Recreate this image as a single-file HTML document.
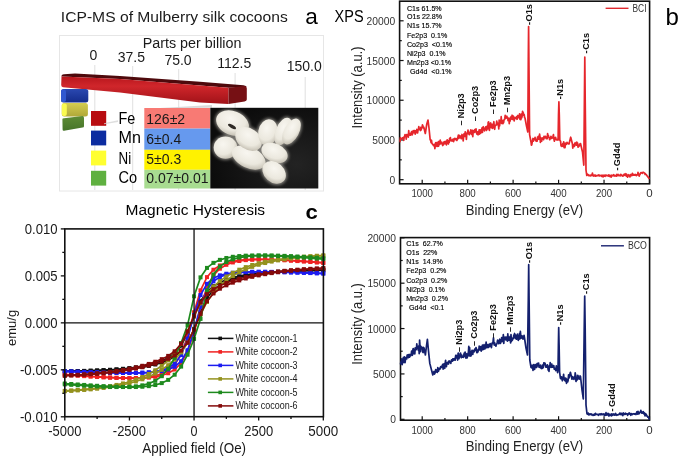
<!DOCTYPE html>
<html><head><meta charset="utf-8"><style>html,body{margin:0;padding:0;background:#fff;overflow:hidden}svg{display:block}text{font-family:"Liberation Sans", sans-serif}</style></head>
<body><div style="will-change:transform;opacity:0.999">
<svg width="685" height="458" viewBox="0 0 685 458" font-family='"Liberation Sans", sans-serif'>
<rect width="685" height="458" fill="#fff"/>
<text x="60.80" y="21.60" font-size="15" textLength="227" lengthAdjust="spacingAndGlyphs" fill="#1a1a1a" >ICP-MS of Mulberry silk cocoons</text>
<text x="305.30" y="23.80" font-size="22.6" >a</text>
<rect x="59.5" y="35.5" width="264" height="155.5" fill="none" stroke="#e6e6e6" stroke-width="1"/>
<text x="142.70" y="48.00" font-size="14" textLength="98.8" lengthAdjust="spacingAndGlyphs" fill="#1a1a1a" >Parts per billion</text>
<text x="93.50" y="60.30" font-size="14" text-anchor="middle" fill="#1a1a1a" >0</text>
<text x="131.30" y="61.50" font-size="14" text-anchor="middle" fill="#1a1a1a" >37.5</text>
<text x="178.00" y="65.00" font-size="14" text-anchor="middle" fill="#1a1a1a" >75.0</text>
<text x="234.20" y="67.80" font-size="14" text-anchor="middle" fill="#1a1a1a" >112.5</text>
<text x="304.20" y="70.80" font-size="14" text-anchor="middle" fill="#1a1a1a" >150.0</text>
<line x1="94.8" y1="65" x2="94.8" y2="190" stroke="#d8d8d8" stroke-width="0.8"/>
<line x1="132.7" y1="66" x2="132.7" y2="190" stroke="#d8d8d8" stroke-width="0.8"/>
<line x1="178.7" y1="69" x2="178.7" y2="190" stroke="#d8d8d8" stroke-width="0.8"/>
<line x1="235.1" y1="73" x2="235.1" y2="190" stroke="#d8d8d8" stroke-width="0.8"/>
<line x1="305.2" y1="77" x2="305.2" y2="190" stroke="#d8d8d8" stroke-width="0.8"/>
<defs>
<linearGradient id="rf" x1="0" y1="0" x2="0" y2="1"><stop offset="0" stop-color="#b8161c"/><stop offset="0.35" stop-color="#d0262b"/><stop offset="1" stop-color="#a01218"/></linearGradient>
<linearGradient id="bf" x1="0" y1="0" x2="0" y2="1"><stop offset="0" stop-color="#2a48b0"/><stop offset="1" stop-color="#142c8c"/></linearGradient>
<linearGradient id="yf" x1="0" y1="0" x2="0" y2="1"><stop offset="0" stop-color="#d4cc50"/><stop offset="1" stop-color="#b0a838"/></linearGradient>
<linearGradient id="gf" x1="0" y1="0" x2="0" y2="1"><stop offset="0" stop-color="#5e8c34"/><stop offset="1" stop-color="#46742a"/></linearGradient>
<radialGradient id="pbg" cx="0.8" cy="0.7" r="0.8"><stop offset="0" stop-color="#232323"/><stop offset="1" stop-color="#0c0c0c"/></radialGradient>
<radialGradient id="coc" cx="0.4" cy="0.35" r="0.7"><stop offset="0" stop-color="#f8f6f0"/><stop offset="0.65" stop-color="#ebe8de"/><stop offset="1" stop-color="#c2bdb0"/></radialGradient>
</defs>
<path d="M61.5,76.5 Q61.2,74.6 64,74.2 L75,73.6 L120,75.9 L200,81.8 L243.5,85.2 Q246.6,85.6 246.6,87 L228.5,87.8 L200,85.5 L120,79.1 Z" fill="#4e090c"/>
<path d="M61.5,76.5 L120,79.1 L200,85.5 L228.5,87.8 L228.5,104.1 L200,102.5 L120,92.5 L63,87.3 Q61.2,87 61.2,85 Z" fill="url(#rf)"/>
<path d="M228.5,87.8 L245,86 Q246.8,86 246.8,88.5 L246.8,99.5 Q246.8,101.2 244.5,101.5 L228.5,104.1 Z" fill="#761014"/>
<rect x="61" y="89.1" width="27.3" height="13.3" rx="2.5" fill="url(#bf)"/>
<rect x="61" y="89.6" width="5" height="12.4" rx="2" fill="#3058d0"/>
<rect x="61.8" y="103" width="26.1" height="13.6" rx="2.5" fill="url(#yf)"/>
<rect x="61.8" y="103.5" width="5" height="12.6" rx="2" fill="#fafa50"/>
<path d="M62.4,119 Q62.4,118.3 64,118.2 L82.5,116.1 Q84,116 84,118 L84,126.3 Q84,127.5 82.5,127.6 L64,130.8 Q62.6,131 62.6,129.6 Z" fill="url(#gf)"/>
<rect x="91" y="111" width="15.2" height="14.8" fill="#b80c10"/>
<rect x="91" y="130.6" width="15.2" height="14.8" fill="#0c2ca0"/>
<rect x="91" y="150.6" width="15.2" height="14.8" fill="#ffff30"/>
<rect x="91" y="170.8" width="15.2" height="14.8" fill="#5fb040"/>
<path d="M104,123.3 L118,120.2 L118,122 L104,124.2 Z" fill="#d6d6d6" opacity="0.8"/>
<path d="M160,108 L212,105 L212,107.8 L160,108.2 Z" fill="#d0d0d0" opacity="0.8"/>
<text x="118.50" y="123.70" font-size="16" textLength="16.8" lengthAdjust="spacingAndGlyphs" >Fe</text>
<text x="118.50" y="143.40" font-size="16" textLength="22.4" lengthAdjust="spacingAndGlyphs" >Mn</text>
<text x="118.50" y="163.50" font-size="16" textLength="12.6" lengthAdjust="spacingAndGlyphs" >Ni</text>
<text x="118.50" y="183.20" font-size="16" textLength="18.6" lengthAdjust="spacingAndGlyphs" >Co</text>
<rect x="144.3" y="108" width="66" height="20.60" fill="#f87a74"/>
<rect x="144.3" y="128.6" width="66" height="21.20" fill="#6699ee"/>
<rect x="144.3" y="149.8" width="66" height="20.00" fill="#fff200"/>
<rect x="144.3" y="169.8" width="66" height="18.70" fill="#a8dc90"/>
<text x="146.30" y="123.70" font-size="14" fill="#1a1a1a" >126±2</text>
<text x="146.30" y="143.70" font-size="14" fill="#1a1a1a" >6±0.4</text>
<text x="146.30" y="163.70" font-size="14" fill="#1a1a1a" >5±0.3</text>
<text x="146.30" y="183.30" font-size="14" fill="#1a1a1a" >0.07±0.01</text>
<defs><filter id="fz" x="-20%" y="-20%" width="140%" height="140%"><feGaussianBlur stdDeviation="0.7"/></filter></defs>
<rect x="210.3" y="107.8" width="108" height="80.7" fill="url(#pbg)"/>
<defs><filter id="fz2" x="-30%" y="-30%" width="160%" height="160%"><feGaussianBlur stdDeviation="1.6"/></filter></defs>
<g filter="url(#fz2)" opacity="0.55">
<ellipse cx="232.5" cy="123.2" rx="18.2" ry="13.2" transform="rotate(22,232.5,123.2)" fill="#d8d4ca"/>
<ellipse cx="225.5" cy="147.6" rx="13.0" ry="12.399999999999999" transform="rotate(0,225.5,147.6)" fill="#d8d4ca"/>
<ellipse cx="248.7" cy="157.5" rx="19.2" ry="11.7" transform="rotate(25,248.7,157.5)" fill="#d8d4ca"/>
<ellipse cx="248.6" cy="139" rx="15.7" ry="11.7" transform="rotate(35,248.6,139)" fill="#d8d4ca"/>
<ellipse cx="268" cy="132.4" rx="11.0" ry="14.399999999999999" transform="rotate(10,268,132.4)" fill="#d8d4ca"/>
<ellipse cx="283.2" cy="131.5" rx="8.7" ry="15.7" transform="rotate(22,283.2,131.5)" fill="#d8d4ca"/>
<ellipse cx="291.5" cy="131.5" rx="8.7" ry="15.2" transform="rotate(28,291.5,131.5)" fill="#d8d4ca"/>
<ellipse cx="274.5" cy="152.9" rx="15.0" ry="10.5" transform="rotate(25,274.5,152.9)" fill="#d8d4ca"/>
<ellipse cx="274.1" cy="172.4" rx="14.2" ry="11.2" transform="rotate(42,274.1,172.4)" fill="#d8d4ca"/>
</g>
<g filter="url(#fz)">
<ellipse cx="232.5" cy="123.2" rx="17" ry="12" transform="rotate(22,232.5,123.2)" fill="url(#coc)"/>
<ellipse cx="225.5" cy="147.6" rx="11.8" ry="11.2" transform="rotate(0,225.5,147.6)" fill="url(#coc)"/>
<ellipse cx="248.7" cy="157.5" rx="18" ry="10.5" transform="rotate(25,248.7,157.5)" fill="url(#coc)"/>
<ellipse cx="248.6" cy="139" rx="14.5" ry="10.5" transform="rotate(35,248.6,139)" fill="url(#coc)"/>
<ellipse cx="268" cy="132.4" rx="9.8" ry="13.2" transform="rotate(10,268,132.4)" fill="url(#coc)"/>
<ellipse cx="283.2" cy="131.5" rx="7.5" ry="14.5" transform="rotate(22,283.2,131.5)" fill="url(#coc)"/>
<ellipse cx="291.5" cy="131.5" rx="7.5" ry="14" transform="rotate(28,291.5,131.5)" fill="url(#coc)"/>
<ellipse cx="274.5" cy="152.9" rx="13.8" ry="9.3" transform="rotate(25,274.5,152.9)" fill="url(#coc)"/>
<ellipse cx="274.1" cy="172.4" rx="13" ry="10" transform="rotate(42,274.1,172.4)" fill="url(#coc)"/>
<ellipse cx="232" cy="126.5" rx="4.5" ry="1.6" transform="rotate(30,232,126.5)" fill="#2e2a26"/>
</g>
<rect x="399.6" y="1.2" width="250.0" height="182.60000000000002" fill="none" stroke="#111" stroke-width="1.6"/>
<line x1="649.50" y1="183.8" x2="649.50" y2="179.8" stroke="#111" stroke-width="1.2"/>
<text x="649.50" y="197.30" font-size="11.5" text-anchor="middle" fill="#333" >0</text>
<line x1="626.77" y1="183.8" x2="626.77" y2="181.60000000000002" stroke="#111" stroke-width="1.2"/>
<line x1="604.04" y1="183.8" x2="604.04" y2="179.8" stroke="#111" stroke-width="1.2"/>
<text x="604.04" y="197.30" font-size="11.5" text-anchor="middle" textLength="16.200000000000003" lengthAdjust="spacingAndGlyphs" fill="#333" >200</text>
<line x1="581.31" y1="183.8" x2="581.31" y2="181.60000000000002" stroke="#111" stroke-width="1.2"/>
<line x1="558.58" y1="183.8" x2="558.58" y2="179.8" stroke="#111" stroke-width="1.2"/>
<text x="558.58" y="197.30" font-size="11.5" text-anchor="middle" textLength="16.200000000000003" lengthAdjust="spacingAndGlyphs" fill="#333" >400</text>
<line x1="535.85" y1="183.8" x2="535.85" y2="181.60000000000002" stroke="#111" stroke-width="1.2"/>
<line x1="513.12" y1="183.8" x2="513.12" y2="179.8" stroke="#111" stroke-width="1.2"/>
<text x="513.12" y="197.30" font-size="11.5" text-anchor="middle" textLength="16.200000000000003" lengthAdjust="spacingAndGlyphs" fill="#333" >600</text>
<line x1="490.39" y1="183.8" x2="490.39" y2="181.60000000000002" stroke="#111" stroke-width="1.2"/>
<line x1="467.66" y1="183.8" x2="467.66" y2="179.8" stroke="#111" stroke-width="1.2"/>
<text x="467.66" y="197.30" font-size="11.5" text-anchor="middle" textLength="16.200000000000003" lengthAdjust="spacingAndGlyphs" fill="#333" >800</text>
<line x1="444.93" y1="183.8" x2="444.93" y2="181.60000000000002" stroke="#111" stroke-width="1.2"/>
<line x1="422.20" y1="183.8" x2="422.20" y2="179.8" stroke="#111" stroke-width="1.2"/>
<text x="422.20" y="197.30" font-size="11.5" text-anchor="middle" textLength="21.6" lengthAdjust="spacingAndGlyphs" fill="#333" >1000</text>
<line x1="399.6" y1="179.70" x2="403.6" y2="179.70" stroke="#111" stroke-width="1.2"/>
<text x="395.10" y="183.70" font-size="11.5" text-anchor="end" textLength="5.72" lengthAdjust="spacingAndGlyphs" fill="#333" >0</text>
<line x1="399.6" y1="159.84" x2="401.8" y2="159.84" stroke="#111" stroke-width="1.2"/>
<line x1="399.6" y1="139.97" x2="403.6" y2="139.97" stroke="#111" stroke-width="1.2"/>
<text x="395.10" y="143.97" font-size="11.5" text-anchor="end" textLength="22.88" lengthAdjust="spacingAndGlyphs" fill="#333" >5000</text>
<line x1="399.6" y1="120.11" x2="401.8" y2="120.11" stroke="#111" stroke-width="1.2"/>
<line x1="399.6" y1="100.25" x2="403.6" y2="100.25" stroke="#111" stroke-width="1.2"/>
<text x="395.10" y="104.25" font-size="11.5" text-anchor="end" textLength="28.599999999999998" lengthAdjust="spacingAndGlyphs" fill="#333" >10000</text>
<line x1="399.6" y1="80.39" x2="401.8" y2="80.39" stroke="#111" stroke-width="1.2"/>
<line x1="399.6" y1="60.52" x2="403.6" y2="60.52" stroke="#111" stroke-width="1.2"/>
<text x="395.10" y="64.52" font-size="11.5" text-anchor="end" textLength="28.599999999999998" lengthAdjust="spacingAndGlyphs" fill="#333" >15000</text>
<line x1="399.6" y1="40.66" x2="401.8" y2="40.66" stroke="#111" stroke-width="1.2"/>
<line x1="399.6" y1="20.80" x2="403.6" y2="20.80" stroke="#111" stroke-width="1.2"/>
<text x="395.10" y="24.80" font-size="11.5" text-anchor="end" textLength="28.599999999999998" lengthAdjust="spacingAndGlyphs" fill="#333" >20000</text>
<text x="524.40" y="214.80" font-size="14" text-anchor="middle" textLength="117.3" lengthAdjust="spacingAndGlyphs" fill="#222" >Binding Energy (eV)</text>
<line x1="605.6" y1="8.3" x2="628.5" y2="8.3" stroke="#e0282e" stroke-width="1.4"/>
<text x="632.50" y="11.90" font-size="10" textLength="14" lengthAdjust="spacingAndGlyphs" fill="#333" >BCI</text>
<text x="0" y="0" font-size="14" text-anchor="middle" textLength="82" lengthAdjust="spacingAndGlyphs" fill="#222" transform="translate(362.00,87.50) rotate(-90)" >Intensity (a.u.)</text>
<text x="334.60" y="21.70" font-size="15.6" textLength="29" lengthAdjust="spacingAndGlyphs" >XPS</text>
<text x="665.50" y="24.60" font-size="24" >b</text>
<path d="M399.60,141.64 L400.02,141.62 L400.43,137.72 L400.85,139.08 L401.26,139.07 L401.68,138.72 L402.09,138.28 L402.51,137.93 L402.92,138.24 L403.34,137.51 L403.75,140.30 L404.17,137.18 L404.58,136.48 L405.00,134.70 L405.41,135.00 L405.82,135.64 L406.24,139.15 L406.65,134.66 L407.06,136.08 L407.47,134.94 L407.88,134.34 L408.29,137.24 L408.71,130.68 L409.12,134.42 L409.53,134.70 L409.94,135.19 L410.35,135.25 L410.76,133.06 L411.18,133.35 L411.59,131.64 L412.00,134.98 L412.40,134.26 L412.80,132.93 L413.20,130.54 L413.60,132.66 L414.00,132.09 L414.40,130.50 L414.80,130.73 L415.20,134.08 L415.60,130.90 L416.00,131.21 L416.40,132.69 L416.80,129.39 L417.20,130.72 L417.60,132.98 L418.00,130.10 L418.40,129.61 L418.80,126.65 L419.20,128.85 L419.60,129.36 L420.00,129.49 L420.40,130.50 L420.80,127.32 L421.20,129.90 L421.60,127.65 L422.00,127.90 L422.45,124.86 L422.90,125.86 L423.35,127.86 L423.80,127.20 L425.30,133.50 L426.80,124.00 L428.00,120.00 L429.00,128.00 L430.20,140.01 L430.63,139.81 L431.07,142.73 L431.50,140.33 L431.93,143.33 L432.37,143.93 L432.80,144.22 L433.21,145.06 L433.62,145.63 L434.04,145.81 L434.45,144.44 L434.86,148.74 L435.28,144.74 L435.69,142.72 L436.10,146.37 L436.51,142.70 L436.93,145.98 L437.34,144.27 L437.75,146.30 L438.16,141.96 L438.57,146.20 L438.99,141.42 L439.40,144.45 L439.81,144.20 L440.23,140.22 L440.64,143.27 L441.05,143.57 L441.46,143.37 L441.88,142.19 L442.29,144.20 L442.70,145.51 L443.11,145.05 L443.52,144.59 L443.94,142.01 L444.35,141.80 L444.76,143.74 L445.18,141.35 L445.59,142.83 L446.00,143.42 L446.40,144.88 L446.80,141.09 L447.20,139.78 L447.60,141.98 L448.00,142.44 L448.40,144.01 L448.80,140.68 L449.20,142.30 L449.60,138.41 L450.00,138.88 L450.40,137.58 L450.80,140.43 L451.20,140.90 L451.60,140.87 L452.00,140.61 L452.40,139.67 L452.80,141.04 L453.20,139.16 L453.60,141.68 L454.00,139.61 L454.40,138.72 L454.80,138.28 L455.20,139.70 L455.60,138.75 L456.00,138.96 L456.40,138.71 L456.80,140.50 L457.20,139.70 L457.60,138.61 L458.00,136.74 L458.40,135.04 L458.80,138.33 L459.20,136.70 L459.60,135.44 L460.00,137.75 L460.40,136.90 L460.80,136.22 L461.20,138.68 L461.60,137.02 L462.00,134.47 L462.40,135.81 L462.80,136.35 L463.20,140.94 L463.60,136.39 L464.00,133.88 L464.40,135.54 L464.80,136.39 L465.20,131.74 L465.60,132.28 L466.00,133.49 L466.40,139.33 L466.80,133.85 L467.20,133.75 L467.60,133.40 L468.00,130.21 L468.40,133.72 L468.80,132.19 L469.20,134.61 L469.60,133.41 L470.00,133.52 L470.40,132.02 L470.80,129.84 L471.20,133.14 L471.60,134.42 L472.00,133.40 L472.40,130.43 L472.80,136.62 L473.20,130.65 L473.60,131.70 L474.00,131.99 L474.40,132.44 L474.80,129.62 L475.20,131.88 L475.60,131.25 L476.00,128.96 L476.40,131.91 L476.80,133.98 L477.20,131.80 L477.60,134.34 L478.00,134.80 L478.40,131.61 L478.80,131.82 L479.20,129.78 L479.60,134.11 L480.00,130.28 L480.41,129.95 L480.82,133.05 L481.23,129.78 L481.64,129.96 L482.05,127.79 L482.45,132.30 L482.86,128.44 L483.27,126.71 L483.68,129.16 L484.09,128.56 L484.50,130.94 L484.91,128.16 L485.32,128.79 L485.73,126.89 L486.14,128.13 L486.55,130.51 L486.95,126.98 L487.36,125.91 L487.77,128.99 L488.18,122.31 L488.59,121.89 L489.00,126.60 L489.41,130.46 L489.81,127.21 L490.22,123.44 L490.63,122.89 L491.04,127.52 L491.44,126.68 L491.85,124.31 L492.26,128.34 L492.67,128.23 L493.07,124.16 L493.48,124.37 L493.89,121.72 L494.30,127.81 L494.70,129.27 L495.11,125.63 L495.52,125.06 L495.93,125.31 L496.33,124.48 L496.74,121.08 L497.15,124.65 L497.56,123.10 L497.96,124.55 L498.37,124.37 L498.78,129.02 L499.19,119.99 L499.59,125.86 L500.00,122.39 L500.40,120.56 L500.80,122.41 L501.20,116.71 L501.60,123.41 L502.00,120.08 L502.40,120.87 L502.80,123.73 L503.20,123.05 L503.60,122.70 L504.00,119.99 L504.40,119.63 L504.80,118.39 L505.20,115.34 L505.60,118.48 L506.00,118.08 L506.41,116.87 L506.82,116.14 L507.23,118.17 L507.64,117.38 L508.05,120.52 L508.45,119.15 L508.86,118.41 L509.27,123.73 L509.68,118.24 L510.09,121.16 L510.50,117.39 L510.91,119.39 L511.32,116.43 L511.73,117.60 L512.14,115.23 L512.55,119.40 L512.95,118.92 L513.36,116.05 L513.77,118.09 L514.18,120.79 L514.59,117.57 L515.00,117.51 L515.42,117.59 L515.83,118.09 L516.25,118.69 L516.67,116.60 L517.08,119.27 L517.50,116.21 L517.92,115.45 L518.33,116.54 L518.75,116.59 L519.17,118.05 L519.58,113.92 L520.00,119.51 L520.42,119.16 L520.85,119.69 L521.27,114.20 L521.70,117.90 L522.12,116.30 L522.55,111.42 L522.98,112.50 L523.40,113.05 L523.80,115.25 L524.20,114.68 L524.60,117.52 L525.00,118.00 L526.50,126.00 L527.80,132.00 L528.30,60.00 L528.60,26.60 L528.90,60.00 L529.60,134.60 L531.00,142.01 L531.40,145.19 L531.80,144.69 L532.20,142.13 L532.60,140.13 L533.00,138.48 L533.41,141.11 L533.82,138.88 L534.24,139.16 L534.65,139.19 L535.06,137.44 L535.47,140.39 L535.88,139.21 L536.29,141.29 L536.71,139.39 L537.12,141.09 L537.53,137.09 L537.94,139.41 L538.35,136.41 L538.76,137.62 L539.18,139.16 L539.59,134.13 L540.00,137.21 L540.40,142.46 L540.80,137.52 L541.20,138.63 L541.60,141.22 L542.00,139.18 L542.40,139.09 L542.80,137.79 L543.20,138.47 L543.60,139.67 L544.00,136.32 L544.40,137.11 L544.80,137.74 L545.20,136.39 L545.60,136.57 L546.00,137.72 L546.40,138.69 L546.80,137.88 L547.20,138.66 L547.60,133.68 L548.00,135.49 L548.42,135.64 L548.83,137.13 L549.25,137.70 L549.67,139.72 L550.08,137.95 L550.50,138.69 L550.92,136.35 L551.33,137.20 L551.75,138.41 L552.17,138.07 L552.58,137.31 L553.00,136.26 L553.44,134.61 L553.88,138.52 L554.31,141.18 L554.75,139.72 L555.19,137.79 L555.62,137.38 L556.06,139.33 L556.50,139.65 L556.90,139.96 L557.30,139.96 L557.70,139.05 L558.10,140.00 L558.50,115.00 L558.90,101.80 L559.30,115.00 L559.80,140.00 L560.60,141.32 L561.04,145.82 L561.48,144.97 L561.92,146.38 L562.36,145.29 L562.80,143.69 L563.24,146.21 L563.68,141.82 L564.12,147.70 L564.56,143.46 L565.00,147.69 L565.40,143.54 L565.80,143.07 L566.20,144.44 L566.60,143.95 L567.00,142.37 L567.40,143.55 L567.80,143.23 L568.20,143.40 L568.60,143.94 L569.00,144.00 L570.70,137.20 L572.00,142.32 L572.40,143.88 L572.80,148.21 L573.20,144.58 L573.60,145.14 L574.00,145.47 L574.40,146.45 L574.80,143.13 L575.20,143.59 L575.60,144.90 L576.00,142.59 L576.40,145.20 L576.80,142.15 L577.20,145.11 L577.60,143.03 L578.00,147.18 L578.42,147.05 L578.83,145.63 L579.25,145.91 L579.67,144.09 L580.08,145.41 L580.50,143.50 L582.50,152.00 L583.80,165.20 L584.40,100.00 L584.80,57.20 L585.20,100.00 L586.00,170.00 L586.80,175.51 L587.20,174.82 L587.60,174.25 L588.00,174.88 L588.40,174.81 L588.80,175.70 L589.20,175.29 L589.60,175.71 L590.00,175.33 L590.40,175.87 L590.80,175.13 L591.20,175.16 L591.60,175.49 L592.00,175.61 L592.40,173.01 L592.80,175.06 L593.20,175.31 L593.60,176.05 L594.00,175.11 L594.40,175.80 L594.80,175.19 L595.20,175.05 L595.60,176.15 L596.00,175.40 L596.40,175.70 L596.80,175.93 L597.20,175.70 L597.60,175.38 L598.00,175.51 L598.40,174.99 L598.80,175.68 L599.20,175.85 L599.60,175.27 L600.00,175.83 L600.40,175.67 L600.80,175.77 L601.20,175.58 L601.60,176.31 L602.00,175.12 L602.40,176.34 L602.80,175.76 L603.20,176.89 L603.60,175.37 L604.00,175.17 L604.40,176.08 L604.80,175.66 L605.20,176.25 L605.60,175.30 L606.00,175.08 L606.40,175.52 L606.80,175.25 L607.20,175.47 L607.60,175.76 L608.00,175.89 L608.40,176.02 L608.80,174.83 L609.20,175.50 L609.60,176.38 L610.00,175.29 L610.40,176.30 L610.80,176.15 L611.20,177.11 L611.60,175.21 L612.00,175.86 L612.40,175.40 L612.80,175.47 L613.20,175.79 L613.60,174.72 L614.00,174.99 L614.40,175.93 L614.80,176.03 L615.20,175.61 L615.60,175.96 L616.00,175.31 L616.40,176.16 L616.80,174.46 L617.20,175.10 L617.60,175.72 L618.00,174.25 L618.40,175.39 L618.80,175.64 L619.20,175.71 L619.60,175.12 L620.00,175.65 L620.40,175.88 L620.80,174.27 L621.20,175.57 L621.60,175.51 L622.00,175.14 L622.40,175.41 L622.80,176.21 L623.20,175.33 L623.60,175.63 L624.00,174.25 L624.40,175.21 L624.80,174.09 L625.20,175.29 L625.60,175.28 L626.00,173.72 L626.40,176.13 L626.80,175.99 L627.20,176.05 L627.60,177.15 L628.00,174.64 L628.40,175.12 L628.80,175.75 L629.20,175.42 L629.60,175.23 L630.00,176.97 L630.40,174.60 L630.80,175.02 L631.20,174.61 L631.60,175.59 L632.00,175.50 L632.40,173.43 L632.80,175.16 L633.20,175.16 L633.60,175.26 L634.00,174.48 L634.40,174.69 L634.80,175.25 L635.20,175.18 L635.60,174.47 L636.00,174.68 L636.40,175.60 L636.80,174.79 L637.20,174.82 L637.60,174.80 L638.00,172.46 L638.43,173.57 L638.86,175.00 L639.29,176.12 L639.71,174.26 L640.14,174.23 L640.57,173.04 L641.00,172.57 L641.42,172.98 L641.83,172.69 L642.25,173.42 L642.67,172.50 L643.08,172.30 L643.50,172.43 L643.90,172.80 L644.30,173.00 L644.70,173.01 L645.10,174.48 L645.50,173.83 L645.90,174.67 L646.30,174.68 L646.70,175.38 L647.10,175.89 L647.50,176.00 L647.90,176.96 L648.30,177.51 L648.70,177.80 L649.10,178.64 L649.50,179.00" fill="none" stroke="#e6262c" stroke-width="1.7" stroke-linejoin="round"/>
<text x="0" y="0" font-size="7.6" fill="#000" stroke="#000" stroke-width="0.15" xml:space="preserve" transform="translate(407,10.5) scale(0.934,1)">C1s 61.5%</text>
<text x="0" y="0" font-size="7.6" fill="#000" stroke="#000" stroke-width="0.15" xml:space="preserve" transform="translate(407,19.3) scale(0.934,1)">O1s 22.8%</text>
<text x="0" y="0" font-size="7.6" fill="#000" stroke="#000" stroke-width="0.15" xml:space="preserve" transform="translate(407,28.4) scale(0.934,1)">N1s 15.7%</text>
<text x="0" y="0" font-size="7.6" fill="#000" stroke="#000" stroke-width="0.15" xml:space="preserve" transform="translate(407,38) scale(0.934,1)">Fe2p3  0.1%</text>
<text x="0" y="0" font-size="7.6" fill="#000" stroke="#000" stroke-width="0.15" xml:space="preserve" transform="translate(407,47.1) scale(0.934,1)">Co2p3  &lt;0.1%</text>
<text x="0" y="0" font-size="7.6" fill="#000" stroke="#000" stroke-width="0.15" xml:space="preserve" transform="translate(407,55.8) scale(0.934,1)">Ni2p3  0.1%</text>
<text x="0" y="0" font-size="7.6" fill="#000" stroke="#000" stroke-width="0.15" xml:space="preserve" transform="translate(407,64.9) scale(0.934,1)">Mn2p3 &lt;0.1%</text>
<text x="0" y="0" font-size="7.6" fill="#000" stroke="#000" stroke-width="0.15" xml:space="preserve" transform="translate(410,74.2) scale(0.934,1)">Gd4d  &lt;0.1%</text>
<text x="0" y="0" font-size="9.2" font-weight="bold" fill="#111" transform="translate(532.10,25.10) rotate(-90)">-<tspan dx="0.6">O1s</tspan></text>
<text x="0" y="0" font-size="9.2" font-weight="bold" fill="#111" transform="translate(588.60,53.50) rotate(-90)">-<tspan dx="0.6">C1s</tspan></text>
<text x="0" y="0" font-size="9.2" font-weight="bold" fill="#111" transform="translate(562.90,99.30) rotate(-90)">-<tspan dx="0.6">N1s</tspan></text>
<text x="0" y="0" font-size="9.2" font-weight="bold" fill="#111" transform="translate(619.80,170.60) rotate(-90)">-<tspan dx="1.4">Gd4d</tspan></text>
<text x="0" y="0" font-size="9.2" font-weight="bold" fill="#111" transform="translate(463.90,125.60) rotate(-90)">–<tspan dx="2.2">Ni2p3</tspan></text>
<text x="0" y="0" font-size="9.2" font-weight="bold" fill="#111" transform="translate(478.00,121.20) rotate(-90)">–<tspan dx="2.2">Co2p3</tspan></text>
<text x="0" y="0" font-size="9.2" font-weight="bold" fill="#111" transform="translate(496.40,114.20) rotate(-90)">–<tspan dx="2.2">Fe2p3</tspan></text>
<text x="0" y="0" font-size="9.2" font-weight="bold" fill="#111" transform="translate(509.90,112.40) rotate(-90)">–<tspan dx="2.2">Mn2p3</tspan></text>
<rect x="400.5" y="237.6" width="249.10000000000002" height="182.6" fill="none" stroke="#111" stroke-width="1.6"/>
<line x1="649.50" y1="420.2" x2="649.50" y2="416.2" stroke="#111" stroke-width="1.2"/>
<text x="649.50" y="433.70" font-size="11.5" text-anchor="middle" fill="#333" >0</text>
<line x1="626.77" y1="420.2" x2="626.77" y2="418.0" stroke="#111" stroke-width="1.2"/>
<line x1="604.04" y1="420.2" x2="604.04" y2="416.2" stroke="#111" stroke-width="1.2"/>
<text x="604.04" y="433.70" font-size="11.5" text-anchor="middle" textLength="16.200000000000003" lengthAdjust="spacingAndGlyphs" fill="#333" >200</text>
<line x1="581.31" y1="420.2" x2="581.31" y2="418.0" stroke="#111" stroke-width="1.2"/>
<line x1="558.58" y1="420.2" x2="558.58" y2="416.2" stroke="#111" stroke-width="1.2"/>
<text x="558.58" y="433.70" font-size="11.5" text-anchor="middle" textLength="16.200000000000003" lengthAdjust="spacingAndGlyphs" fill="#333" >400</text>
<line x1="535.85" y1="420.2" x2="535.85" y2="418.0" stroke="#111" stroke-width="1.2"/>
<line x1="513.12" y1="420.2" x2="513.12" y2="416.2" stroke="#111" stroke-width="1.2"/>
<text x="513.12" y="433.70" font-size="11.5" text-anchor="middle" textLength="16.200000000000003" lengthAdjust="spacingAndGlyphs" fill="#333" >600</text>
<line x1="490.39" y1="420.2" x2="490.39" y2="418.0" stroke="#111" stroke-width="1.2"/>
<line x1="467.66" y1="420.2" x2="467.66" y2="416.2" stroke="#111" stroke-width="1.2"/>
<text x="467.66" y="433.70" font-size="11.5" text-anchor="middle" textLength="16.200000000000003" lengthAdjust="spacingAndGlyphs" fill="#333" >800</text>
<line x1="444.93" y1="420.2" x2="444.93" y2="418.0" stroke="#111" stroke-width="1.2"/>
<line x1="422.20" y1="420.2" x2="422.20" y2="416.2" stroke="#111" stroke-width="1.2"/>
<text x="422.20" y="433.70" font-size="11.5" text-anchor="middle" textLength="21.6" lengthAdjust="spacingAndGlyphs" fill="#333" >1000</text>
<line x1="400.5" y1="419.30" x2="404.5" y2="419.30" stroke="#111" stroke-width="1.2"/>
<text x="396.00" y="423.30" font-size="11.5" text-anchor="end" textLength="5.72" lengthAdjust="spacingAndGlyphs" fill="#333" >0</text>
<line x1="400.5" y1="396.61" x2="402.7" y2="396.61" stroke="#111" stroke-width="1.2"/>
<line x1="400.5" y1="373.93" x2="404.5" y2="373.93" stroke="#111" stroke-width="1.2"/>
<text x="396.00" y="377.93" font-size="11.5" text-anchor="end" textLength="22.88" lengthAdjust="spacingAndGlyphs" fill="#333" >5000</text>
<line x1="400.5" y1="351.24" x2="402.7" y2="351.24" stroke="#111" stroke-width="1.2"/>
<line x1="400.5" y1="328.55" x2="404.5" y2="328.55" stroke="#111" stroke-width="1.2"/>
<text x="396.00" y="332.55" font-size="11.5" text-anchor="end" textLength="28.599999999999998" lengthAdjust="spacingAndGlyphs" fill="#333" >10000</text>
<line x1="400.5" y1="305.86" x2="402.7" y2="305.86" stroke="#111" stroke-width="1.2"/>
<line x1="400.5" y1="283.18" x2="404.5" y2="283.18" stroke="#111" stroke-width="1.2"/>
<text x="396.00" y="287.18" font-size="11.5" text-anchor="end" textLength="28.599999999999998" lengthAdjust="spacingAndGlyphs" fill="#333" >15000</text>
<line x1="400.5" y1="260.49" x2="402.7" y2="260.49" stroke="#111" stroke-width="1.2"/>
<line x1="400.5" y1="237.80" x2="404.5" y2="237.80" stroke="#111" stroke-width="1.2"/>
<text x="396.00" y="241.80" font-size="11.5" text-anchor="end" textLength="28.599999999999998" lengthAdjust="spacingAndGlyphs" fill="#333" >20000</text>
<text x="524.40" y="451.20" font-size="14" text-anchor="middle" textLength="117.3" lengthAdjust="spacingAndGlyphs" fill="#222" >Binding Energy (eV)</text>
<line x1="601" y1="245.8" x2="623.9" y2="245.8" stroke="#1a2370" stroke-width="1.4"/>
<text x="627.90" y="249.40" font-size="10" textLength="19" lengthAdjust="spacingAndGlyphs" fill="#333" >BCO</text>
<text x="0" y="0" font-size="14" text-anchor="middle" textLength="81.5" lengthAdjust="spacingAndGlyphs" fill="#222" transform="translate(362.00,324.00) rotate(-90)" >Intensity (a.u.)</text>
<path d="M400.50,364.36 L400.91,361.82 L401.33,363.97 L401.74,358.95 L402.15,364.64 L402.57,362.19 L402.98,362.41 L403.39,357.41 L403.80,362.47 L404.22,359.26 L404.63,356.96 L405.04,362.59 L405.46,359.84 L405.87,357.92 L406.28,358.79 L406.70,358.94 L407.11,355.22 L407.52,356.99 L407.93,354.90 L408.35,357.60 L408.76,354.65 L409.17,354.77 L409.59,357.14 L410.00,354.48 L410.40,354.65 L410.80,355.78 L411.20,354.72 L411.60,351.01 L412.00,351.50 L412.40,355.28 L412.80,350.19 L413.20,348.54 L413.60,353.66 L414.00,349.72 L414.40,350.07 L414.80,353.90 L415.20,347.92 L415.60,349.98 L416.00,348.00 L416.40,349.52 L416.80,343.75 L417.20,347.06 L417.60,347.83 L418.00,347.74 L418.40,350.30 L418.80,345.75 L419.20,353.73 L419.60,340.05 L420.04,346.38 L420.48,351.58 L420.92,346.35 L421.36,347.85 L421.80,347.19 L422.24,347.42 L422.68,351.95 L423.12,352.60 L423.56,347.38 L424.00,348.00 L425.40,355.00 L426.60,345.00 L427.40,339.40 L428.40,350.00 L429.80,363.40 L432.80,374.94 L433.21,372.32 L433.62,372.15 L434.04,371.49 L434.45,374.25 L434.86,373.21 L435.28,372.56 L435.69,369.66 L436.10,370.01 L436.51,371.96 L436.93,370.03 L437.34,372.36 L437.75,367.70 L438.16,370.52 L438.57,371.05 L438.99,368.94 L439.40,368.36 L439.81,369.20 L440.23,368.60 L440.64,366.80 L441.05,366.55 L441.46,367.49 L441.88,366.18 L442.29,366.18 L442.70,364.26 L443.11,369.13 L443.52,366.59 L443.94,363.88 L444.35,367.56 L444.76,368.24 L445.18,363.31 L445.59,360.37 L446.00,364.42 L446.40,366.54 L446.80,362.86 L447.20,363.53 L447.60,363.76 L448.00,362.02 L448.40,364.03 L448.80,361.34 L449.20,360.85 L449.60,362.53 L450.00,361.86 L450.40,361.99 L450.80,363.39 L451.20,360.81 L451.60,359.77 L452.00,360.45 L452.40,361.14 L452.80,358.94 L453.20,360.45 L453.60,358.84 L454.00,359.20 L454.40,359.81 L454.80,358.30 L455.20,360.22 L455.60,355.82 L456.01,355.13 L456.43,357.94 L456.84,355.80 L457.25,356.28 L457.67,360.05 L458.08,353.23 L458.49,353.11 L458.91,358.72 L459.32,357.29 L459.73,356.53 L460.15,355.91 L460.56,353.11 L460.97,356.45 L461.39,357.64 L461.80,355.05 L462.21,357.16 L462.63,356.82 L463.04,357.14 L463.45,357.32 L463.87,354.77 L464.28,353.04 L464.69,356.41 L465.11,352.06 L465.52,353.77 L465.93,358.14 L466.35,354.29 L466.76,353.83 L467.17,357.85 L467.59,355.88 L468.00,353.95 L468.40,352.27 L468.80,346.27 L469.20,356.06 L469.60,347.54 L470.00,353.59 L470.40,351.22 L470.80,356.21 L471.20,355.26 L471.60,352.96 L472.00,350.40 L472.40,354.25 L472.80,354.32 L473.20,350.30 L473.60,351.14 L474.00,351.88 L474.40,351.60 L474.80,349.64 L475.20,348.52 L475.60,350.15 L476.00,347.66 L476.40,348.67 L476.80,352.77 L477.20,349.93 L477.60,352.37 L478.00,351.62 L478.40,350.09 L478.80,349.98 L479.20,346.20 L479.60,347.25 L480.00,349.84 L480.41,347.12 L480.82,346.54 L481.22,351.14 L481.63,349.56 L482.04,348.60 L482.45,345.16 L482.85,349.75 L483.26,348.89 L483.67,349.27 L484.08,344.55 L484.48,347.28 L484.89,348.95 L485.30,347.66 L485.71,346.43 L486.12,342.15 L486.52,347.62 L486.93,347.67 L487.34,344.65 L487.75,347.29 L488.15,345.81 L488.56,347.32 L488.97,344.29 L489.38,345.89 L489.78,346.29 L490.19,343.53 L490.60,344.54 L491.01,344.36 L491.42,347.62 L491.83,344.40 L492.25,342.80 L492.66,343.50 L493.07,341.57 L493.48,337.87 L493.89,343.19 L494.30,345.19 L494.71,342.91 L495.13,345.00 L495.54,344.69 L495.95,346.17 L496.36,344.41 L496.77,344.10 L497.18,342.40 L497.59,340.14 L498.01,341.44 L498.42,342.43 L498.83,343.67 L499.24,340.94 L499.65,339.24 L500.06,341.25 L500.47,343.43 L500.89,340.82 L501.30,339.92 L501.71,337.51 L502.12,341.58 L502.53,340.99 L502.94,338.50 L503.35,334.71 L503.77,343.41 L504.18,338.18 L504.59,338.08 L505.00,337.06 L505.40,337.74 L505.80,339.97 L506.20,337.12 L506.60,339.60 L507.00,338.95 L507.40,341.20 L507.80,333.84 L508.20,338.15 L508.60,337.11 L509.00,340.31 L509.40,338.64 L509.80,339.15 L510.20,336.36 L510.60,342.93 L511.00,334.49 L511.40,341.40 L511.80,338.11 L512.20,340.48 L512.60,339.62 L513.00,337.94 L513.40,338.33 L513.80,335.08 L514.20,335.09 L514.60,333.47 L515.00,337.32 L515.41,338.54 L515.82,335.10 L516.24,336.84 L516.65,339.24 L517.06,338.34 L517.47,334.12 L517.88,336.62 L518.29,340.32 L518.71,336.41 L519.12,339.24 L519.53,333.31 L519.94,338.92 L520.35,331.44 L520.76,335.10 L521.18,338.24 L521.59,337.32 L522.00,335.87 L522.42,336.84 L522.83,338.98 L523.25,336.29 L523.67,338.95 L524.08,335.29 L524.50,338.00 L526.00,348.00 L527.50,355.00 L528.30,300.00 L528.70,264.70 L529.10,300.00 L529.80,360.00 L531.00,367.33 L531.40,367.72 L531.80,365.45 L532.20,368.24 L532.60,366.44 L533.00,370.49 L533.40,364.71 L533.80,366.03 L534.20,367.40 L534.60,369.44 L535.00,364.51 L535.40,367.05 L535.80,366.35 L536.20,367.56 L536.60,364.00 L537.00,366.79 L537.40,363.44 L537.80,364.07 L538.20,364.21 L538.60,363.06 L539.00,367.18 L539.40,366.87 L539.80,365.60 L540.20,367.68 L540.60,365.09 L541.00,367.82 L541.40,368.55 L541.80,366.41 L542.20,368.36 L542.60,364.99 L543.00,367.90 L543.40,367.10 L543.80,362.78 L544.20,364.62 L544.60,362.96 L545.00,363.19 L545.40,364.49 L545.80,367.08 L546.20,365.75 L546.60,367.19 L547.00,366.17 L547.40,364.87 L547.80,367.11 L548.20,370.24 L548.60,369.28 L549.00,371.46 L549.40,365.62 L549.80,366.85 L550.20,362.65 L550.60,364.54 L551.00,367.32 L551.40,365.52 L551.80,364.16 L552.20,367.15 L552.60,365.85 L553.00,367.20 L553.41,365.50 L553.83,365.79 L554.24,369.10 L554.65,368.17 L555.06,369.52 L555.47,369.72 L555.89,370.56 L556.30,365.96 L556.72,369.51 L557.15,367.45 L557.58,372.64 L558.00,370.00 L558.40,345.00 L558.70,327.60 L559.10,345.00 L559.60,372.00 L560.40,378.12 L560.80,378.56 L561.20,377.79 L561.60,376.88 L562.00,379.23 L562.40,380.78 L562.80,379.46 L563.20,378.38 L563.60,374.41 L564.00,378.22 L564.40,378.97 L564.80,380.63 L565.20,378.21 L565.60,381.12 L566.00,378.33 L566.43,383.29 L566.86,379.34 L567.29,379.62 L567.71,381.89 L568.14,380.18 L568.57,374.73 L569.00,378.00 L570.40,372.30 L572.00,379.19 L572.40,376.70 L572.80,378.55 L573.20,377.27 L573.60,378.97 L574.00,379.36 L574.40,376.97 L574.80,378.20 L575.20,372.83 L575.60,375.04 L576.00,381.52 L576.40,378.54 L576.80,377.77 L577.20,379.80 L577.60,375.40 L578.00,375.60 L578.42,378.47 L578.83,378.63 L579.25,379.17 L579.67,378.59 L580.08,375.88 L580.50,376.50 L582.00,390.00 L583.30,399.00 L584.20,330.00 L584.70,296.00 L585.20,330.00 L586.00,405.00 L587.00,413.83 L587.41,414.06 L587.81,414.28 L588.22,413.04 L588.62,414.72 L589.03,414.94 L589.44,413.97 L589.84,414.62 L590.25,414.14 L590.66,414.30 L591.06,414.02 L591.47,414.78 L591.88,414.14 L592.28,414.99 L592.69,414.87 L593.09,415.40 L593.50,415.28 L593.91,414.37 L594.31,414.06 L594.72,415.08 L595.12,414.79 L595.53,413.25 L595.94,414.52 L596.34,414.42 L596.75,414.38 L597.16,414.41 L597.56,414.43 L597.97,414.73 L598.38,415.35 L598.78,414.59 L599.19,413.95 L599.59,414.51 L600.00,414.27 L600.40,414.15 L600.80,414.90 L601.20,413.71 L601.60,414.29 L602.00,413.93 L602.40,414.59 L602.80,414.49 L603.20,414.44 L603.60,413.97 L604.00,413.79 L604.40,415.47 L604.80,415.03 L605.20,415.26 L605.60,414.42 L606.00,412.66 L606.40,415.08 L606.80,414.15 L607.20,414.48 L607.60,414.81 L608.00,413.34 L608.40,414.71 L608.80,415.93 L609.20,414.08 L609.60,415.60 L610.00,415.48 L610.40,414.97 L610.80,415.37 L611.20,413.89 L611.60,415.86 L612.00,414.99 L612.40,414.07 L612.80,415.19 L613.20,414.52 L613.60,414.00 L614.00,414.21 L614.40,414.51 L614.80,415.21 L615.20,414.11 L615.60,413.52 L616.00,414.77 L616.40,414.34 L616.80,415.28 L617.20,414.93 L617.60,415.02 L618.00,414.64 L618.40,414.37 L618.80,414.56 L619.20,414.32 L619.60,413.98 L620.00,412.96 L620.40,414.55 L620.80,414.14 L621.20,414.12 L621.60,413.32 L622.00,414.83 L622.40,413.63 L622.80,415.68 L623.20,414.55 L623.60,412.98 L624.00,413.70 L624.40,414.36 L624.80,413.93 L625.20,414.23 L625.60,413.19 L626.00,414.02 L626.40,413.82 L626.80,413.81 L627.20,413.81 L627.60,415.32 L628.00,414.66 L628.40,413.66 L628.80,413.25 L629.20,412.78 L629.60,414.08 L630.00,413.49 L630.40,413.80 L630.80,415.27 L631.20,413.61 L631.60,414.10 L632.00,414.15 L632.40,414.52 L632.80,413.93 L633.20,413.90 L633.60,413.91 L634.00,413.73 L634.40,414.16 L634.80,413.82 L635.20,414.25 L635.60,413.59 L636.00,414.37 L636.40,413.85 L636.80,411.79 L637.20,413.19 L637.60,414.06 L638.00,411.25 L638.40,413.24 L638.80,413.92 L639.20,413.42 L639.60,412.38 L640.00,412.20 L640.42,412.23 L640.83,410.43 L641.25,412.86 L641.67,411.65 L642.08,413.21 L642.50,412.53 L642.92,412.25 L643.33,411.69 L643.75,413.78 L644.17,413.54 L644.58,413.00 L645.00,415.89 L645.40,415.35 L645.80,413.82 L646.20,414.49 L646.60,415.20 L647.00,416.18 L647.42,416.10 L647.83,417.24 L648.25,417.25 L648.67,417.20 L649.08,419.08 L649.50,418.50" fill="none" stroke="#14206e" stroke-width="1.7" stroke-linejoin="round"/>
<text x="0" y="0" font-size="7.6" fill="#000" stroke="#000" stroke-width="0.15" xml:space="preserve" transform="translate(406.2,245.9) scale(0.934,1)">C1s  62.7%</text>
<text x="0" y="0" font-size="7.6" fill="#000" stroke="#000" stroke-width="0.15" xml:space="preserve" transform="translate(406.2,255) scale(0.934,1)">O1s  22%</text>
<text x="0" y="0" font-size="7.6" fill="#000" stroke="#000" stroke-width="0.15" xml:space="preserve" transform="translate(406.2,264.1) scale(0.934,1)">N1s  14.9%</text>
<text x="0" y="0" font-size="7.6" fill="#000" stroke="#000" stroke-width="0.15" xml:space="preserve" transform="translate(406.2,273.4) scale(0.934,1)">Fe2p3  0.2%</text>
<text x="0" y="0" font-size="7.6" fill="#000" stroke="#000" stroke-width="0.15" xml:space="preserve" transform="translate(406.2,282.7) scale(0.934,1)">Co2p3  0.2%</text>
<text x="0" y="0" font-size="7.6" fill="#000" stroke="#000" stroke-width="0.15" xml:space="preserve" transform="translate(406.2,291.8) scale(0.934,1)">Ni2p3  0.1%</text>
<text x="0" y="0" font-size="7.6" fill="#000" stroke="#000" stroke-width="0.15" xml:space="preserve" transform="translate(406.2,301) scale(0.934,1)">Mn2p3  0.2%</text>
<text x="0" y="0" font-size="7.6" fill="#000" stroke="#000" stroke-width="0.15" xml:space="preserve" transform="translate(409,310.2) scale(0.934,1)">Gd4d  &lt;0.1</text>
<text x="0" y="0" font-size="9.2" font-weight="bold" fill="#111" transform="translate(532.00,263.00) rotate(-90)">-<tspan dx="0.6">O1s</tspan></text>
<text x="0" y="0" font-size="9.2" font-weight="bold" fill="#111" transform="translate(588.70,293.90) rotate(-90)">-<tspan dx="0.6">C1s</tspan></text>
<text x="0" y="0" font-size="9.2" font-weight="bold" fill="#111" transform="translate(562.70,325.00) rotate(-90)">-<tspan dx="0.6">N1s</tspan></text>
<text x="0" y="0" font-size="9.2" font-weight="bold" fill="#111" transform="translate(615.00,411.40) rotate(-90)">-<tspan dx="1.4">Gd4d</tspan></text>
<text x="0" y="0" font-size="9.2" font-weight="bold" fill="#111" transform="translate(461.80,352.00) rotate(-90)">–<tspan dx="2.2">Ni2p3</tspan></text>
<text x="0" y="0" font-size="9.2" font-weight="bold" fill="#111" transform="translate(476.60,346.00) rotate(-90)">–<tspan dx="2.2">Co2p3</tspan></text>
<text x="0" y="0" font-size="9.2" font-weight="bold" fill="#111" transform="translate(495.90,338.00) rotate(-90)">–<tspan dx="2.2">Fe2p3</tspan></text>
<text x="0" y="0" font-size="9.2" font-weight="bold" fill="#111" transform="translate(512.90,332.00) rotate(-90)">–<tspan dx="2.2">Mn2p3</tspan></text>
<text x="125.50" y="215.40" font-size="14" textLength="139.6" lengthAdjust="spacingAndGlyphs" >Magnetic Hysteresis</text>
<text x="305.40" y="219.00" font-size="20.5" textLength="12.3" lengthAdjust="spacingAndGlyphs" font-weight="bold" >c</text>
<g>
<path d="M64.80,371.43 L71.26,371.30 L77.73,371.17 L84.19,371.00 L90.65,370.82 L97.11,370.60 L103.58,370.33 L110.04,370.02 L116.50,369.64 L122.96,369.19 L129.43,368.62 L135.89,367.92 L142.35,367.04 L148.81,365.92 L155.28,364.48 L161.74,362.60 L168.20,360.11 L174.66,356.65 L181.12,351.44 L187.59,342.79 L194.05,328.84 L200.51,311.56 L206.98,298.07 L213.44,289.98 L219.90,284.99 L226.36,281.58 L232.83,279.09 L239.29,277.21 L245.75,275.75 L252.21,274.62 L258.68,273.72 L265.14,273.01 L271.60,272.43 L278.06,271.96 L284.53,271.57 L290.99,271.25 L297.45,270.98 L303.91,270.75 L310.38,270.56 L316.84,270.39 L323.30,270.24" fill="none" stroke="#111111" stroke-width="1.7"/>
<rect x="62.80" y="369.43" width="4" height="4" fill="#111111"/>
<rect x="69.26" y="369.30" width="4" height="4" fill="#111111"/>
<rect x="75.73" y="369.17" width="4" height="4" fill="#111111"/>
<rect x="82.19" y="369.00" width="4" height="4" fill="#111111"/>
<rect x="88.65" y="368.82" width="4" height="4" fill="#111111"/>
<rect x="95.11" y="368.60" width="4" height="4" fill="#111111"/>
<rect x="101.58" y="368.33" width="4" height="4" fill="#111111"/>
<rect x="108.04" y="368.02" width="4" height="4" fill="#111111"/>
<rect x="114.50" y="367.64" width="4" height="4" fill="#111111"/>
<rect x="120.96" y="367.19" width="4" height="4" fill="#111111"/>
<rect x="127.43" y="366.62" width="4" height="4" fill="#111111"/>
<rect x="133.89" y="365.92" width="4" height="4" fill="#111111"/>
<rect x="140.35" y="365.04" width="4" height="4" fill="#111111"/>
<rect x="146.81" y="363.92" width="4" height="4" fill="#111111"/>
<rect x="153.28" y="362.48" width="4" height="4" fill="#111111"/>
<rect x="159.74" y="360.60" width="4" height="4" fill="#111111"/>
<rect x="166.20" y="358.11" width="4" height="4" fill="#111111"/>
<rect x="172.66" y="354.65" width="4" height="4" fill="#111111"/>
<rect x="179.12" y="349.44" width="4" height="4" fill="#111111"/>
<rect x="185.59" y="340.79" width="4" height="4" fill="#111111"/>
<rect x="192.05" y="326.84" width="4" height="4" fill="#111111"/>
<rect x="198.51" y="309.56" width="4" height="4" fill="#111111"/>
<rect x="204.98" y="296.07" width="4" height="4" fill="#111111"/>
<rect x="211.44" y="287.98" width="4" height="4" fill="#111111"/>
<rect x="217.90" y="282.99" width="4" height="4" fill="#111111"/>
<rect x="224.36" y="279.58" width="4" height="4" fill="#111111"/>
<rect x="230.83" y="277.09" width="4" height="4" fill="#111111"/>
<rect x="237.29" y="275.21" width="4" height="4" fill="#111111"/>
<rect x="243.75" y="273.75" width="4" height="4" fill="#111111"/>
<rect x="250.21" y="272.62" width="4" height="4" fill="#111111"/>
<rect x="256.68" y="271.72" width="4" height="4" fill="#111111"/>
<rect x="263.14" y="271.01" width="4" height="4" fill="#111111"/>
<rect x="269.60" y="270.43" width="4" height="4" fill="#111111"/>
<rect x="276.06" y="269.96" width="4" height="4" fill="#111111"/>
<rect x="282.53" y="269.57" width="4" height="4" fill="#111111"/>
<rect x="288.99" y="269.25" width="4" height="4" fill="#111111"/>
<rect x="295.45" y="268.98" width="4" height="4" fill="#111111"/>
<rect x="301.91" y="268.75" width="4" height="4" fill="#111111"/>
<rect x="308.38" y="268.56" width="4" height="4" fill="#111111"/>
<rect x="314.84" y="268.39" width="4" height="4" fill="#111111"/>
<rect x="321.30" y="268.24" width="4" height="4" fill="#111111"/>
<path d="M64.80,371.34 L71.26,371.21 L77.73,371.05 L84.19,370.87 L90.65,370.66 L97.11,370.41 L103.58,370.11 L110.04,369.76 L116.50,369.32 L122.96,368.79 L129.43,368.13 L135.89,367.31 L142.35,366.26 L148.81,364.92 L155.28,363.18 L161.74,360.89 L168.20,357.75 L174.66,353.15 L181.12,345.69 L187.59,333.26 L194.05,316.35 L200.51,301.22 L206.98,291.83 L213.44,286.18 L219.90,282.43 L226.36,279.72 L232.83,277.69 L239.29,276.13 L245.75,274.91 L252.21,273.95 L258.68,273.19 L265.14,272.58 L271.60,272.08 L278.06,271.67 L284.53,271.33 L290.99,271.05 L297.45,270.81 L303.91,270.61 L310.38,270.43 L316.84,270.28 L323.30,270.15" fill="none" stroke="#111111" stroke-width="1.7"/>
<rect x="62.80" y="369.34" width="4" height="4" fill="#111111"/>
<rect x="69.26" y="369.21" width="4" height="4" fill="#111111"/>
<rect x="75.73" y="369.05" width="4" height="4" fill="#111111"/>
<rect x="82.19" y="368.87" width="4" height="4" fill="#111111"/>
<rect x="88.65" y="368.66" width="4" height="4" fill="#111111"/>
<rect x="95.11" y="368.41" width="4" height="4" fill="#111111"/>
<rect x="101.58" y="368.11" width="4" height="4" fill="#111111"/>
<rect x="108.04" y="367.76" width="4" height="4" fill="#111111"/>
<rect x="114.50" y="367.32" width="4" height="4" fill="#111111"/>
<rect x="120.96" y="366.79" width="4" height="4" fill="#111111"/>
<rect x="127.43" y="366.13" width="4" height="4" fill="#111111"/>
<rect x="133.89" y="365.31" width="4" height="4" fill="#111111"/>
<rect x="140.35" y="364.26" width="4" height="4" fill="#111111"/>
<rect x="146.81" y="362.92" width="4" height="4" fill="#111111"/>
<rect x="153.28" y="361.18" width="4" height="4" fill="#111111"/>
<rect x="159.74" y="358.89" width="4" height="4" fill="#111111"/>
<rect x="166.20" y="355.75" width="4" height="4" fill="#111111"/>
<rect x="172.66" y="351.15" width="4" height="4" fill="#111111"/>
<rect x="179.12" y="343.69" width="4" height="4" fill="#111111"/>
<rect x="185.59" y="331.26" width="4" height="4" fill="#111111"/>
<rect x="192.05" y="314.35" width="4" height="4" fill="#111111"/>
<rect x="198.51" y="299.22" width="4" height="4" fill="#111111"/>
<rect x="204.98" y="289.83" width="4" height="4" fill="#111111"/>
<rect x="211.44" y="284.18" width="4" height="4" fill="#111111"/>
<rect x="217.90" y="280.43" width="4" height="4" fill="#111111"/>
<rect x="224.36" y="277.72" width="4" height="4" fill="#111111"/>
<rect x="230.83" y="275.69" width="4" height="4" fill="#111111"/>
<rect x="237.29" y="274.13" width="4" height="4" fill="#111111"/>
<rect x="243.75" y="272.91" width="4" height="4" fill="#111111"/>
<rect x="250.21" y="271.95" width="4" height="4" fill="#111111"/>
<rect x="256.68" y="271.19" width="4" height="4" fill="#111111"/>
<rect x="263.14" y="270.58" width="4" height="4" fill="#111111"/>
<rect x="269.60" y="270.08" width="4" height="4" fill="#111111"/>
<rect x="276.06" y="269.67" width="4" height="4" fill="#111111"/>
<rect x="282.53" y="269.33" width="4" height="4" fill="#111111"/>
<rect x="288.99" y="269.05" width="4" height="4" fill="#111111"/>
<rect x="295.45" y="268.81" width="4" height="4" fill="#111111"/>
<rect x="301.91" y="268.61" width="4" height="4" fill="#111111"/>
<rect x="308.38" y="268.43" width="4" height="4" fill="#111111"/>
<rect x="314.84" y="268.28" width="4" height="4" fill="#111111"/>
<rect x="321.30" y="268.15" width="4" height="4" fill="#111111"/>
<path d="M64.80,374.25 L71.26,374.77 L77.73,375.28 L84.19,375.77 L90.65,376.24 L97.11,376.68 L103.58,377.09 L110.04,377.46 L116.50,377.77 L122.96,378.01 L129.43,378.16 L135.89,378.18 L142.35,378.02 L148.81,377.60 L155.28,376.81 L161.74,375.47 L168.20,373.25 L174.66,369.53 L181.12,363.06 L187.59,351.44 L194.05,332.17 L200.51,307.23 L206.98,287.08 L213.44,275.30 L219.90,268.69 L226.36,264.82 L232.83,262.46 L239.29,261.01 L245.75,260.13 L252.21,259.65 L258.68,259.43 L265.14,259.40 L271.60,259.51 L278.06,259.72 L284.53,260.01 L290.99,260.36 L297.45,260.75 L303.91,261.17 L310.38,261.63 L316.84,262.11 L323.30,262.61" fill="none" stroke="#f02222" stroke-width="1.7"/>
<rect x="62.80" y="372.25" width="4" height="4" fill="#f02222"/>
<rect x="69.26" y="372.77" width="4" height="4" fill="#f02222"/>
<rect x="75.73" y="373.28" width="4" height="4" fill="#f02222"/>
<rect x="82.19" y="373.77" width="4" height="4" fill="#f02222"/>
<rect x="88.65" y="374.24" width="4" height="4" fill="#f02222"/>
<rect x="95.11" y="374.68" width="4" height="4" fill="#f02222"/>
<rect x="101.58" y="375.09" width="4" height="4" fill="#f02222"/>
<rect x="108.04" y="375.46" width="4" height="4" fill="#f02222"/>
<rect x="114.50" y="375.77" width="4" height="4" fill="#f02222"/>
<rect x="120.96" y="376.01" width="4" height="4" fill="#f02222"/>
<rect x="127.43" y="376.16" width="4" height="4" fill="#f02222"/>
<rect x="133.89" y="376.18" width="4" height="4" fill="#f02222"/>
<rect x="140.35" y="376.02" width="4" height="4" fill="#f02222"/>
<rect x="146.81" y="375.60" width="4" height="4" fill="#f02222"/>
<rect x="153.28" y="374.81" width="4" height="4" fill="#f02222"/>
<rect x="159.74" y="373.47" width="4" height="4" fill="#f02222"/>
<rect x="166.20" y="371.25" width="4" height="4" fill="#f02222"/>
<rect x="172.66" y="367.53" width="4" height="4" fill="#f02222"/>
<rect x="179.12" y="361.06" width="4" height="4" fill="#f02222"/>
<rect x="185.59" y="349.44" width="4" height="4" fill="#f02222"/>
<rect x="192.05" y="330.17" width="4" height="4" fill="#f02222"/>
<rect x="198.51" y="305.23" width="4" height="4" fill="#f02222"/>
<rect x="204.98" y="285.08" width="4" height="4" fill="#f02222"/>
<rect x="211.44" y="273.30" width="4" height="4" fill="#f02222"/>
<rect x="217.90" y="266.69" width="4" height="4" fill="#f02222"/>
<rect x="224.36" y="262.82" width="4" height="4" fill="#f02222"/>
<rect x="230.83" y="260.46" width="4" height="4" fill="#f02222"/>
<rect x="237.29" y="259.01" width="4" height="4" fill="#f02222"/>
<rect x="243.75" y="258.13" width="4" height="4" fill="#f02222"/>
<rect x="250.21" y="257.65" width="4" height="4" fill="#f02222"/>
<rect x="256.68" y="257.43" width="4" height="4" fill="#f02222"/>
<rect x="263.14" y="257.40" width="4" height="4" fill="#f02222"/>
<rect x="269.60" y="257.51" width="4" height="4" fill="#f02222"/>
<rect x="276.06" y="257.72" width="4" height="4" fill="#f02222"/>
<rect x="282.53" y="258.01" width="4" height="4" fill="#f02222"/>
<rect x="288.99" y="258.36" width="4" height="4" fill="#f02222"/>
<rect x="295.45" y="258.75" width="4" height="4" fill="#f02222"/>
<rect x="301.91" y="259.17" width="4" height="4" fill="#f02222"/>
<rect x="308.38" y="259.63" width="4" height="4" fill="#f02222"/>
<rect x="314.84" y="260.11" width="4" height="4" fill="#f02222"/>
<rect x="321.30" y="260.61" width="4" height="4" fill="#f02222"/>
<path d="M64.80,374.67 L71.26,375.18 L77.73,375.67 L84.19,376.15 L90.65,376.60 L97.11,377.01 L103.58,377.39 L110.04,377.72 L116.50,377.97 L122.96,378.14 L129.43,378.19 L135.89,378.07 L142.35,377.71 L148.81,377.01 L155.28,375.80 L161.74,373.78 L168.20,370.44 L174.66,364.67 L181.12,354.33 L187.59,336.60 L194.05,312.26 L200.51,290.37 L206.98,277.13 L213.44,269.74 L219.90,265.44 L226.36,262.84 L232.83,261.24 L239.29,260.27 L245.75,259.72 L252.21,259.46 L258.68,259.40 L265.14,259.48 L271.60,259.67 L278.06,259.95 L284.53,260.28 L290.99,260.67 L297.45,261.09 L303.91,261.54 L310.38,262.01 L316.84,262.51 L323.30,263.02" fill="none" stroke="#f02222" stroke-width="1.7"/>
<rect x="62.80" y="372.67" width="4" height="4" fill="#f02222"/>
<rect x="69.26" y="373.18" width="4" height="4" fill="#f02222"/>
<rect x="75.73" y="373.67" width="4" height="4" fill="#f02222"/>
<rect x="82.19" y="374.15" width="4" height="4" fill="#f02222"/>
<rect x="88.65" y="374.60" width="4" height="4" fill="#f02222"/>
<rect x="95.11" y="375.01" width="4" height="4" fill="#f02222"/>
<rect x="101.58" y="375.39" width="4" height="4" fill="#f02222"/>
<rect x="108.04" y="375.72" width="4" height="4" fill="#f02222"/>
<rect x="114.50" y="375.97" width="4" height="4" fill="#f02222"/>
<rect x="120.96" y="376.14" width="4" height="4" fill="#f02222"/>
<rect x="127.43" y="376.19" width="4" height="4" fill="#f02222"/>
<rect x="133.89" y="376.07" width="4" height="4" fill="#f02222"/>
<rect x="140.35" y="375.71" width="4" height="4" fill="#f02222"/>
<rect x="146.81" y="375.01" width="4" height="4" fill="#f02222"/>
<rect x="153.28" y="373.80" width="4" height="4" fill="#f02222"/>
<rect x="159.74" y="371.78" width="4" height="4" fill="#f02222"/>
<rect x="166.20" y="368.44" width="4" height="4" fill="#f02222"/>
<rect x="172.66" y="362.67" width="4" height="4" fill="#f02222"/>
<rect x="179.12" y="352.33" width="4" height="4" fill="#f02222"/>
<rect x="185.59" y="334.60" width="4" height="4" fill="#f02222"/>
<rect x="192.05" y="310.26" width="4" height="4" fill="#f02222"/>
<rect x="198.51" y="288.37" width="4" height="4" fill="#f02222"/>
<rect x="204.98" y="275.13" width="4" height="4" fill="#f02222"/>
<rect x="211.44" y="267.74" width="4" height="4" fill="#f02222"/>
<rect x="217.90" y="263.44" width="4" height="4" fill="#f02222"/>
<rect x="224.36" y="260.84" width="4" height="4" fill="#f02222"/>
<rect x="230.83" y="259.24" width="4" height="4" fill="#f02222"/>
<rect x="237.29" y="258.27" width="4" height="4" fill="#f02222"/>
<rect x="243.75" y="257.72" width="4" height="4" fill="#f02222"/>
<rect x="250.21" y="257.46" width="4" height="4" fill="#f02222"/>
<rect x="256.68" y="257.40" width="4" height="4" fill="#f02222"/>
<rect x="263.14" y="257.48" width="4" height="4" fill="#f02222"/>
<rect x="269.60" y="257.67" width="4" height="4" fill="#f02222"/>
<rect x="276.06" y="257.95" width="4" height="4" fill="#f02222"/>
<rect x="282.53" y="258.28" width="4" height="4" fill="#f02222"/>
<rect x="288.99" y="258.67" width="4" height="4" fill="#f02222"/>
<rect x="295.45" y="259.09" width="4" height="4" fill="#f02222"/>
<rect x="301.91" y="259.54" width="4" height="4" fill="#f02222"/>
<rect x="308.38" y="260.01" width="4" height="4" fill="#f02222"/>
<rect x="314.84" y="260.51" width="4" height="4" fill="#f02222"/>
<rect x="321.30" y="261.02" width="4" height="4" fill="#f02222"/>
<path d="M64.80,371.22 L71.26,371.46 L77.73,371.69 L84.19,371.92 L90.65,372.13 L97.11,372.33 L103.58,372.52 L110.04,372.68 L116.50,372.82 L122.96,372.92 L129.43,372.97 L135.89,372.94 L142.35,372.82 L148.81,372.54 L155.28,372.02 L161.74,371.12 L168.20,369.55 L174.66,366.71 L181.12,361.22 L187.59,350.22 L194.05,330.54 L200.51,306.82 L206.98,290.07 L213.44,281.35 L219.90,276.97 L226.36,274.64 L232.83,273.33 L239.29,272.57 L245.75,272.14 L252.21,271.92 L258.68,271.83 L265.14,271.83 L271.60,271.89 L278.06,272.00 L284.53,272.15 L290.99,272.32 L297.45,272.51 L303.91,272.72 L310.38,272.93 L316.84,273.16 L323.30,273.40" fill="none" stroke="#1c1cf0" stroke-width="1.7"/>
<rect x="62.80" y="369.22" width="4" height="4" fill="#1c1cf0"/>
<rect x="69.26" y="369.46" width="4" height="4" fill="#1c1cf0"/>
<rect x="75.73" y="369.69" width="4" height="4" fill="#1c1cf0"/>
<rect x="82.19" y="369.92" width="4" height="4" fill="#1c1cf0"/>
<rect x="88.65" y="370.13" width="4" height="4" fill="#1c1cf0"/>
<rect x="95.11" y="370.33" width="4" height="4" fill="#1c1cf0"/>
<rect x="101.58" y="370.52" width="4" height="4" fill="#1c1cf0"/>
<rect x="108.04" y="370.68" width="4" height="4" fill="#1c1cf0"/>
<rect x="114.50" y="370.82" width="4" height="4" fill="#1c1cf0"/>
<rect x="120.96" y="370.92" width="4" height="4" fill="#1c1cf0"/>
<rect x="127.43" y="370.97" width="4" height="4" fill="#1c1cf0"/>
<rect x="133.89" y="370.94" width="4" height="4" fill="#1c1cf0"/>
<rect x="140.35" y="370.82" width="4" height="4" fill="#1c1cf0"/>
<rect x="146.81" y="370.54" width="4" height="4" fill="#1c1cf0"/>
<rect x="153.28" y="370.02" width="4" height="4" fill="#1c1cf0"/>
<rect x="159.74" y="369.12" width="4" height="4" fill="#1c1cf0"/>
<rect x="166.20" y="367.55" width="4" height="4" fill="#1c1cf0"/>
<rect x="172.66" y="364.71" width="4" height="4" fill="#1c1cf0"/>
<rect x="179.12" y="359.22" width="4" height="4" fill="#1c1cf0"/>
<rect x="185.59" y="348.22" width="4" height="4" fill="#1c1cf0"/>
<rect x="192.05" y="328.54" width="4" height="4" fill="#1c1cf0"/>
<rect x="198.51" y="304.82" width="4" height="4" fill="#1c1cf0"/>
<rect x="204.98" y="288.07" width="4" height="4" fill="#1c1cf0"/>
<rect x="211.44" y="279.35" width="4" height="4" fill="#1c1cf0"/>
<rect x="217.90" y="274.97" width="4" height="4" fill="#1c1cf0"/>
<rect x="224.36" y="272.64" width="4" height="4" fill="#1c1cf0"/>
<rect x="230.83" y="271.33" width="4" height="4" fill="#1c1cf0"/>
<rect x="237.29" y="270.57" width="4" height="4" fill="#1c1cf0"/>
<rect x="243.75" y="270.14" width="4" height="4" fill="#1c1cf0"/>
<rect x="250.21" y="269.92" width="4" height="4" fill="#1c1cf0"/>
<rect x="256.68" y="269.83" width="4" height="4" fill="#1c1cf0"/>
<rect x="263.14" y="269.83" width="4" height="4" fill="#1c1cf0"/>
<rect x="269.60" y="269.89" width="4" height="4" fill="#1c1cf0"/>
<rect x="276.06" y="270.00" width="4" height="4" fill="#1c1cf0"/>
<rect x="282.53" y="270.15" width="4" height="4" fill="#1c1cf0"/>
<rect x="288.99" y="270.32" width="4" height="4" fill="#1c1cf0"/>
<rect x="295.45" y="270.51" width="4" height="4" fill="#1c1cf0"/>
<rect x="301.91" y="270.72" width="4" height="4" fill="#1c1cf0"/>
<rect x="308.38" y="270.93" width="4" height="4" fill="#1c1cf0"/>
<rect x="314.84" y="271.16" width="4" height="4" fill="#1c1cf0"/>
<rect x="321.30" y="271.40" width="4" height="4" fill="#1c1cf0"/>
<path d="M64.80,371.37 L71.26,371.61 L77.73,371.84 L84.19,372.05 L90.65,372.26 L97.11,372.45 L103.58,372.63 L110.04,372.77 L116.50,372.89 L122.96,372.96 L129.43,372.96 L135.89,372.88 L142.35,372.66 L148.81,372.24 L155.28,371.51 L161.74,370.22 L168.20,367.94 L174.66,363.64 L181.12,355.06 L187.59,338.60 L194.05,315.03 L200.51,295.01 L206.98,283.81 L213.44,278.22 L219.90,275.32 L226.36,273.72 L232.83,272.80 L239.29,272.27 L245.75,271.98 L252.21,271.85 L258.68,271.82 L265.14,271.86 L271.60,271.96 L278.06,272.09 L284.53,272.26 L290.99,272.44 L297.45,272.64 L303.91,272.85 L310.38,273.08 L316.84,273.31 L323.30,273.55" fill="none" stroke="#1c1cf0" stroke-width="1.7"/>
<rect x="62.80" y="369.37" width="4" height="4" fill="#1c1cf0"/>
<rect x="69.26" y="369.61" width="4" height="4" fill="#1c1cf0"/>
<rect x="75.73" y="369.84" width="4" height="4" fill="#1c1cf0"/>
<rect x="82.19" y="370.05" width="4" height="4" fill="#1c1cf0"/>
<rect x="88.65" y="370.26" width="4" height="4" fill="#1c1cf0"/>
<rect x="95.11" y="370.45" width="4" height="4" fill="#1c1cf0"/>
<rect x="101.58" y="370.63" width="4" height="4" fill="#1c1cf0"/>
<rect x="108.04" y="370.77" width="4" height="4" fill="#1c1cf0"/>
<rect x="114.50" y="370.89" width="4" height="4" fill="#1c1cf0"/>
<rect x="120.96" y="370.96" width="4" height="4" fill="#1c1cf0"/>
<rect x="127.43" y="370.96" width="4" height="4" fill="#1c1cf0"/>
<rect x="133.89" y="370.88" width="4" height="4" fill="#1c1cf0"/>
<rect x="140.35" y="370.66" width="4" height="4" fill="#1c1cf0"/>
<rect x="146.81" y="370.24" width="4" height="4" fill="#1c1cf0"/>
<rect x="153.28" y="369.51" width="4" height="4" fill="#1c1cf0"/>
<rect x="159.74" y="368.22" width="4" height="4" fill="#1c1cf0"/>
<rect x="166.20" y="365.94" width="4" height="4" fill="#1c1cf0"/>
<rect x="172.66" y="361.64" width="4" height="4" fill="#1c1cf0"/>
<rect x="179.12" y="353.06" width="4" height="4" fill="#1c1cf0"/>
<rect x="185.59" y="336.60" width="4" height="4" fill="#1c1cf0"/>
<rect x="192.05" y="313.03" width="4" height="4" fill="#1c1cf0"/>
<rect x="198.51" y="293.01" width="4" height="4" fill="#1c1cf0"/>
<rect x="204.98" y="281.81" width="4" height="4" fill="#1c1cf0"/>
<rect x="211.44" y="276.22" width="4" height="4" fill="#1c1cf0"/>
<rect x="217.90" y="273.32" width="4" height="4" fill="#1c1cf0"/>
<rect x="224.36" y="271.72" width="4" height="4" fill="#1c1cf0"/>
<rect x="230.83" y="270.80" width="4" height="4" fill="#1c1cf0"/>
<rect x="237.29" y="270.27" width="4" height="4" fill="#1c1cf0"/>
<rect x="243.75" y="269.98" width="4" height="4" fill="#1c1cf0"/>
<rect x="250.21" y="269.85" width="4" height="4" fill="#1c1cf0"/>
<rect x="256.68" y="269.82" width="4" height="4" fill="#1c1cf0"/>
<rect x="263.14" y="269.86" width="4" height="4" fill="#1c1cf0"/>
<rect x="269.60" y="269.96" width="4" height="4" fill="#1c1cf0"/>
<rect x="276.06" y="270.09" width="4" height="4" fill="#1c1cf0"/>
<rect x="282.53" y="270.26" width="4" height="4" fill="#1c1cf0"/>
<rect x="288.99" y="270.44" width="4" height="4" fill="#1c1cf0"/>
<rect x="295.45" y="270.64" width="4" height="4" fill="#1c1cf0"/>
<rect x="301.91" y="270.85" width="4" height="4" fill="#1c1cf0"/>
<rect x="308.38" y="271.08" width="4" height="4" fill="#1c1cf0"/>
<rect x="314.84" y="271.31" width="4" height="4" fill="#1c1cf0"/>
<rect x="321.30" y="271.55" width="4" height="4" fill="#1c1cf0"/>
<path d="M64.80,391.21 L71.26,390.84 L77.73,390.41 L84.19,389.92 L90.65,389.36 L97.11,388.70 L103.58,387.94 L110.04,387.05 L116.50,385.99 L122.96,384.75 L129.43,383.26 L135.89,381.47 L142.35,379.32 L148.81,376.72 L155.28,373.59 L161.74,369.79 L168.20,365.20 L174.66,359.56 L181.12,352.40 L187.59,342.71 L194.05,329.50 L200.51,314.56 L206.98,301.93 L213.44,292.73 L219.90,285.88 L226.36,280.46 L232.83,276.03 L239.29,272.37 L245.75,269.34 L252.21,266.84 L258.68,264.76 L265.14,263.04 L271.60,261.60 L278.06,260.39 L284.53,259.37 L290.99,258.51 L297.45,257.77 L303.91,257.14 L310.38,256.59 L316.84,256.11 L323.30,255.70" fill="none" stroke="#94921e" stroke-width="1.7"/>
<rect x="62.80" y="389.21" width="4" height="4" fill="#94921e"/>
<rect x="69.26" y="388.84" width="4" height="4" fill="#94921e"/>
<rect x="75.73" y="388.41" width="4" height="4" fill="#94921e"/>
<rect x="82.19" y="387.92" width="4" height="4" fill="#94921e"/>
<rect x="88.65" y="387.36" width="4" height="4" fill="#94921e"/>
<rect x="95.11" y="386.70" width="4" height="4" fill="#94921e"/>
<rect x="101.58" y="385.94" width="4" height="4" fill="#94921e"/>
<rect x="108.04" y="385.05" width="4" height="4" fill="#94921e"/>
<rect x="114.50" y="383.99" width="4" height="4" fill="#94921e"/>
<rect x="120.96" y="382.75" width="4" height="4" fill="#94921e"/>
<rect x="127.43" y="381.26" width="4" height="4" fill="#94921e"/>
<rect x="133.89" y="379.47" width="4" height="4" fill="#94921e"/>
<rect x="140.35" y="377.32" width="4" height="4" fill="#94921e"/>
<rect x="146.81" y="374.72" width="4" height="4" fill="#94921e"/>
<rect x="153.28" y="371.59" width="4" height="4" fill="#94921e"/>
<rect x="159.74" y="367.79" width="4" height="4" fill="#94921e"/>
<rect x="166.20" y="363.20" width="4" height="4" fill="#94921e"/>
<rect x="172.66" y="357.56" width="4" height="4" fill="#94921e"/>
<rect x="179.12" y="350.40" width="4" height="4" fill="#94921e"/>
<rect x="185.59" y="340.71" width="4" height="4" fill="#94921e"/>
<rect x="192.05" y="327.50" width="4" height="4" fill="#94921e"/>
<rect x="198.51" y="312.56" width="4" height="4" fill="#94921e"/>
<rect x="204.98" y="299.93" width="4" height="4" fill="#94921e"/>
<rect x="211.44" y="290.73" width="4" height="4" fill="#94921e"/>
<rect x="217.90" y="283.88" width="4" height="4" fill="#94921e"/>
<rect x="224.36" y="278.46" width="4" height="4" fill="#94921e"/>
<rect x="230.83" y="274.03" width="4" height="4" fill="#94921e"/>
<rect x="237.29" y="270.37" width="4" height="4" fill="#94921e"/>
<rect x="243.75" y="267.34" width="4" height="4" fill="#94921e"/>
<rect x="250.21" y="264.84" width="4" height="4" fill="#94921e"/>
<rect x="256.68" y="262.76" width="4" height="4" fill="#94921e"/>
<rect x="263.14" y="261.04" width="4" height="4" fill="#94921e"/>
<rect x="269.60" y="259.60" width="4" height="4" fill="#94921e"/>
<rect x="276.06" y="258.39" width="4" height="4" fill="#94921e"/>
<rect x="282.53" y="257.37" width="4" height="4" fill="#94921e"/>
<rect x="288.99" y="256.51" width="4" height="4" fill="#94921e"/>
<rect x="295.45" y="255.77" width="4" height="4" fill="#94921e"/>
<rect x="301.91" y="255.14" width="4" height="4" fill="#94921e"/>
<rect x="308.38" y="254.59" width="4" height="4" fill="#94921e"/>
<rect x="314.84" y="254.11" width="4" height="4" fill="#94921e"/>
<rect x="321.30" y="253.70" width="4" height="4" fill="#94921e"/>
<path d="M64.80,390.88 L71.26,390.46 L77.73,389.98 L84.19,389.43 L90.65,388.79 L97.11,388.04 L103.58,387.16 L110.04,386.13 L116.50,384.91 L122.96,383.45 L129.43,381.70 L135.89,379.60 L142.35,377.06 L148.81,373.99 L155.28,370.29 L161.74,365.80 L168.20,360.30 L174.66,353.37 L181.12,344.05 L187.59,331.25 L194.05,316.29 L200.51,303.25 L206.98,293.69 L213.44,286.62 L219.90,281.05 L226.36,276.52 L232.83,272.77 L239.29,269.68 L245.75,267.11 L252.21,264.99 L258.68,263.23 L265.14,261.76 L271.60,260.53 L278.06,259.49 L284.53,258.60 L290.99,257.85 L297.45,257.21 L303.91,256.65 L310.38,256.17 L316.84,255.75 L323.30,255.38" fill="none" stroke="#94921e" stroke-width="1.7"/>
<rect x="62.80" y="388.88" width="4" height="4" fill="#94921e"/>
<rect x="69.26" y="388.46" width="4" height="4" fill="#94921e"/>
<rect x="75.73" y="387.98" width="4" height="4" fill="#94921e"/>
<rect x="82.19" y="387.43" width="4" height="4" fill="#94921e"/>
<rect x="88.65" y="386.79" width="4" height="4" fill="#94921e"/>
<rect x="95.11" y="386.04" width="4" height="4" fill="#94921e"/>
<rect x="101.58" y="385.16" width="4" height="4" fill="#94921e"/>
<rect x="108.04" y="384.13" width="4" height="4" fill="#94921e"/>
<rect x="114.50" y="382.91" width="4" height="4" fill="#94921e"/>
<rect x="120.96" y="381.45" width="4" height="4" fill="#94921e"/>
<rect x="127.43" y="379.70" width="4" height="4" fill="#94921e"/>
<rect x="133.89" y="377.60" width="4" height="4" fill="#94921e"/>
<rect x="140.35" y="375.06" width="4" height="4" fill="#94921e"/>
<rect x="146.81" y="371.99" width="4" height="4" fill="#94921e"/>
<rect x="153.28" y="368.29" width="4" height="4" fill="#94921e"/>
<rect x="159.74" y="363.80" width="4" height="4" fill="#94921e"/>
<rect x="166.20" y="358.30" width="4" height="4" fill="#94921e"/>
<rect x="172.66" y="351.37" width="4" height="4" fill="#94921e"/>
<rect x="179.12" y="342.05" width="4" height="4" fill="#94921e"/>
<rect x="185.59" y="329.25" width="4" height="4" fill="#94921e"/>
<rect x="192.05" y="314.29" width="4" height="4" fill="#94921e"/>
<rect x="198.51" y="301.25" width="4" height="4" fill="#94921e"/>
<rect x="204.98" y="291.69" width="4" height="4" fill="#94921e"/>
<rect x="211.44" y="284.62" width="4" height="4" fill="#94921e"/>
<rect x="217.90" y="279.05" width="4" height="4" fill="#94921e"/>
<rect x="224.36" y="274.52" width="4" height="4" fill="#94921e"/>
<rect x="230.83" y="270.77" width="4" height="4" fill="#94921e"/>
<rect x="237.29" y="267.68" width="4" height="4" fill="#94921e"/>
<rect x="243.75" y="265.11" width="4" height="4" fill="#94921e"/>
<rect x="250.21" y="262.99" width="4" height="4" fill="#94921e"/>
<rect x="256.68" y="261.23" width="4" height="4" fill="#94921e"/>
<rect x="263.14" y="259.76" width="4" height="4" fill="#94921e"/>
<rect x="269.60" y="258.53" width="4" height="4" fill="#94921e"/>
<rect x="276.06" y="257.49" width="4" height="4" fill="#94921e"/>
<rect x="282.53" y="256.60" width="4" height="4" fill="#94921e"/>
<rect x="288.99" y="255.85" width="4" height="4" fill="#94921e"/>
<rect x="295.45" y="255.21" width="4" height="4" fill="#94921e"/>
<rect x="301.91" y="254.65" width="4" height="4" fill="#94921e"/>
<rect x="308.38" y="254.17" width="4" height="4" fill="#94921e"/>
<rect x="314.84" y="253.75" width="4" height="4" fill="#94921e"/>
<rect x="321.30" y="253.38" width="4" height="4" fill="#94921e"/>
<path d="M64.80,383.50 L71.26,383.99 L77.73,384.47 L84.19,384.93 L90.65,385.37 L97.11,385.79 L103.58,386.17 L110.04,386.50 L116.50,386.78 L122.96,386.99 L129.43,387.08 L135.89,387.03 L142.35,386.75 L148.81,386.15 L155.28,385.02 L161.74,383.10 L168.20,379.89 L174.66,374.70 L181.12,366.60 L187.59,354.71 L194.05,338.90 L200.51,318.92 L206.98,290.59 L213.44,274.47 L219.90,266.42 L226.36,262.00 L232.83,259.33 L239.29,257.64 L245.75,256.58 L252.21,255.94 L258.68,255.60 L265.14,255.47 L271.60,255.49 L278.06,255.63 L284.53,255.86 L290.99,256.15 L297.45,256.49 L303.91,256.88 L310.38,257.29 L316.84,257.74 L323.30,258.20" fill="none" stroke="#1e8a1e" stroke-width="1.7"/>
<rect x="62.80" y="381.50" width="4" height="4" fill="#1e8a1e"/>
<rect x="69.26" y="381.99" width="4" height="4" fill="#1e8a1e"/>
<rect x="75.73" y="382.47" width="4" height="4" fill="#1e8a1e"/>
<rect x="82.19" y="382.93" width="4" height="4" fill="#1e8a1e"/>
<rect x="88.65" y="383.37" width="4" height="4" fill="#1e8a1e"/>
<rect x="95.11" y="383.79" width="4" height="4" fill="#1e8a1e"/>
<rect x="101.58" y="384.17" width="4" height="4" fill="#1e8a1e"/>
<rect x="108.04" y="384.50" width="4" height="4" fill="#1e8a1e"/>
<rect x="114.50" y="384.78" width="4" height="4" fill="#1e8a1e"/>
<rect x="120.96" y="384.99" width="4" height="4" fill="#1e8a1e"/>
<rect x="127.43" y="385.08" width="4" height="4" fill="#1e8a1e"/>
<rect x="133.89" y="385.03" width="4" height="4" fill="#1e8a1e"/>
<rect x="140.35" y="384.75" width="4" height="4" fill="#1e8a1e"/>
<rect x="146.81" y="384.15" width="4" height="4" fill="#1e8a1e"/>
<rect x="153.28" y="383.02" width="4" height="4" fill="#1e8a1e"/>
<rect x="159.74" y="381.10" width="4" height="4" fill="#1e8a1e"/>
<rect x="166.20" y="377.89" width="4" height="4" fill="#1e8a1e"/>
<rect x="172.66" y="372.70" width="4" height="4" fill="#1e8a1e"/>
<rect x="179.12" y="364.60" width="4" height="4" fill="#1e8a1e"/>
<rect x="185.59" y="352.71" width="4" height="4" fill="#1e8a1e"/>
<rect x="192.05" y="336.90" width="4" height="4" fill="#1e8a1e"/>
<rect x="198.51" y="316.92" width="4" height="4" fill="#1e8a1e"/>
<rect x="204.98" y="288.59" width="4" height="4" fill="#1e8a1e"/>
<rect x="211.44" y="272.47" width="4" height="4" fill="#1e8a1e"/>
<rect x="217.90" y="264.42" width="4" height="4" fill="#1e8a1e"/>
<rect x="224.36" y="260.00" width="4" height="4" fill="#1e8a1e"/>
<rect x="230.83" y="257.33" width="4" height="4" fill="#1e8a1e"/>
<rect x="237.29" y="255.64" width="4" height="4" fill="#1e8a1e"/>
<rect x="243.75" y="254.58" width="4" height="4" fill="#1e8a1e"/>
<rect x="250.21" y="253.94" width="4" height="4" fill="#1e8a1e"/>
<rect x="256.68" y="253.60" width="4" height="4" fill="#1e8a1e"/>
<rect x="263.14" y="253.47" width="4" height="4" fill="#1e8a1e"/>
<rect x="269.60" y="253.49" width="4" height="4" fill="#1e8a1e"/>
<rect x="276.06" y="253.63" width="4" height="4" fill="#1e8a1e"/>
<rect x="282.53" y="253.86" width="4" height="4" fill="#1e8a1e"/>
<rect x="288.99" y="254.15" width="4" height="4" fill="#1e8a1e"/>
<rect x="295.45" y="254.49" width="4" height="4" fill="#1e8a1e"/>
<rect x="301.91" y="254.88" width="4" height="4" fill="#1e8a1e"/>
<rect x="308.38" y="255.29" width="4" height="4" fill="#1e8a1e"/>
<rect x="314.84" y="255.74" width="4" height="4" fill="#1e8a1e"/>
<rect x="321.30" y="256.20" width="4" height="4" fill="#1e8a1e"/>
<path d="M64.80,384.36 L71.26,384.82 L77.73,385.27 L84.19,385.69 L90.65,386.08 L97.11,386.43 L103.58,386.72 L110.04,386.95 L116.50,387.07 L122.96,387.06 L129.43,386.84 L135.89,386.33 L142.35,385.35 L148.81,383.65 L155.28,380.81 L161.74,376.18 L168.20,368.86 L174.66,357.94 L181.12,343.00 L187.59,325.09 L194.05,296.32 L200.51,277.37 L206.98,267.91 L213.44,262.86 L219.90,259.86 L226.36,257.98 L232.83,256.79 L239.29,256.06 L245.75,255.66 L252.21,255.49 L258.68,255.48 L265.14,255.59 L271.60,255.80 L278.06,256.08 L284.53,256.41 L290.99,256.78 L297.45,257.19 L303.91,257.63 L310.38,258.08 L316.84,258.56 L323.30,259.05" fill="none" stroke="#1e8a1e" stroke-width="1.7"/>
<rect x="62.80" y="382.36" width="4" height="4" fill="#1e8a1e"/>
<rect x="69.26" y="382.82" width="4" height="4" fill="#1e8a1e"/>
<rect x="75.73" y="383.27" width="4" height="4" fill="#1e8a1e"/>
<rect x="82.19" y="383.69" width="4" height="4" fill="#1e8a1e"/>
<rect x="88.65" y="384.08" width="4" height="4" fill="#1e8a1e"/>
<rect x="95.11" y="384.43" width="4" height="4" fill="#1e8a1e"/>
<rect x="101.58" y="384.72" width="4" height="4" fill="#1e8a1e"/>
<rect x="108.04" y="384.95" width="4" height="4" fill="#1e8a1e"/>
<rect x="114.50" y="385.07" width="4" height="4" fill="#1e8a1e"/>
<rect x="120.96" y="385.06" width="4" height="4" fill="#1e8a1e"/>
<rect x="127.43" y="384.84" width="4" height="4" fill="#1e8a1e"/>
<rect x="133.89" y="384.33" width="4" height="4" fill="#1e8a1e"/>
<rect x="140.35" y="383.35" width="4" height="4" fill="#1e8a1e"/>
<rect x="146.81" y="381.65" width="4" height="4" fill="#1e8a1e"/>
<rect x="153.28" y="378.81" width="4" height="4" fill="#1e8a1e"/>
<rect x="159.74" y="374.18" width="4" height="4" fill="#1e8a1e"/>
<rect x="166.20" y="366.86" width="4" height="4" fill="#1e8a1e"/>
<rect x="172.66" y="355.94" width="4" height="4" fill="#1e8a1e"/>
<rect x="179.12" y="341.00" width="4" height="4" fill="#1e8a1e"/>
<rect x="185.59" y="323.09" width="4" height="4" fill="#1e8a1e"/>
<rect x="192.05" y="294.32" width="4" height="4" fill="#1e8a1e"/>
<rect x="198.51" y="275.37" width="4" height="4" fill="#1e8a1e"/>
<rect x="204.98" y="265.91" width="4" height="4" fill="#1e8a1e"/>
<rect x="211.44" y="260.86" width="4" height="4" fill="#1e8a1e"/>
<rect x="217.90" y="257.86" width="4" height="4" fill="#1e8a1e"/>
<rect x="224.36" y="255.98" width="4" height="4" fill="#1e8a1e"/>
<rect x="230.83" y="254.79" width="4" height="4" fill="#1e8a1e"/>
<rect x="237.29" y="254.06" width="4" height="4" fill="#1e8a1e"/>
<rect x="243.75" y="253.66" width="4" height="4" fill="#1e8a1e"/>
<rect x="250.21" y="253.49" width="4" height="4" fill="#1e8a1e"/>
<rect x="256.68" y="253.48" width="4" height="4" fill="#1e8a1e"/>
<rect x="263.14" y="253.59" width="4" height="4" fill="#1e8a1e"/>
<rect x="269.60" y="253.80" width="4" height="4" fill="#1e8a1e"/>
<rect x="276.06" y="254.08" width="4" height="4" fill="#1e8a1e"/>
<rect x="282.53" y="254.41" width="4" height="4" fill="#1e8a1e"/>
<rect x="288.99" y="254.78" width="4" height="4" fill="#1e8a1e"/>
<rect x="295.45" y="255.19" width="4" height="4" fill="#1e8a1e"/>
<rect x="301.91" y="255.63" width="4" height="4" fill="#1e8a1e"/>
<rect x="308.38" y="256.08" width="4" height="4" fill="#1e8a1e"/>
<rect x="314.84" y="256.56" width="4" height="4" fill="#1e8a1e"/>
<rect x="321.30" y="257.05" width="4" height="4" fill="#1e8a1e"/>
<path d="M64.80,375.78 L71.26,375.47 L77.73,375.13 L84.19,374.74 L90.65,374.29 L97.11,373.79 L103.58,373.20 L110.04,372.53 L116.50,371.76 L122.96,370.86 L129.43,369.82 L135.89,368.61 L142.35,367.21 L148.81,365.58 L155.28,363.68 L161.74,361.45 L168.20,358.80 L174.66,355.43 L181.12,350.60 L187.59,342.64 L194.05,329.74 L200.51,313.87 L206.98,301.16 L213.44,293.44 L219.90,288.70 L226.36,285.34 L232.83,282.66 L239.29,280.41 L245.75,278.48 L252.21,276.83 L258.68,275.40 L265.14,274.17 L271.60,273.12 L278.06,272.21 L284.53,271.42 L290.99,270.74 L297.45,270.15 L303.91,269.63 L310.38,269.18 L316.84,268.78 L323.30,268.43" fill="none" stroke="#840a0a" stroke-width="1.7"/>
<rect x="62.80" y="373.78" width="4" height="4" fill="#840a0a"/>
<rect x="69.26" y="373.47" width="4" height="4" fill="#840a0a"/>
<rect x="75.73" y="373.13" width="4" height="4" fill="#840a0a"/>
<rect x="82.19" y="372.74" width="4" height="4" fill="#840a0a"/>
<rect x="88.65" y="372.29" width="4" height="4" fill="#840a0a"/>
<rect x="95.11" y="371.79" width="4" height="4" fill="#840a0a"/>
<rect x="101.58" y="371.20" width="4" height="4" fill="#840a0a"/>
<rect x="108.04" y="370.53" width="4" height="4" fill="#840a0a"/>
<rect x="114.50" y="369.76" width="4" height="4" fill="#840a0a"/>
<rect x="120.96" y="368.86" width="4" height="4" fill="#840a0a"/>
<rect x="127.43" y="367.82" width="4" height="4" fill="#840a0a"/>
<rect x="133.89" y="366.61" width="4" height="4" fill="#840a0a"/>
<rect x="140.35" y="365.21" width="4" height="4" fill="#840a0a"/>
<rect x="146.81" y="363.58" width="4" height="4" fill="#840a0a"/>
<rect x="153.28" y="361.68" width="4" height="4" fill="#840a0a"/>
<rect x="159.74" y="359.45" width="4" height="4" fill="#840a0a"/>
<rect x="166.20" y="356.80" width="4" height="4" fill="#840a0a"/>
<rect x="172.66" y="353.43" width="4" height="4" fill="#840a0a"/>
<rect x="179.12" y="348.60" width="4" height="4" fill="#840a0a"/>
<rect x="185.59" y="340.64" width="4" height="4" fill="#840a0a"/>
<rect x="192.05" y="327.74" width="4" height="4" fill="#840a0a"/>
<rect x="198.51" y="311.87" width="4" height="4" fill="#840a0a"/>
<rect x="204.98" y="299.16" width="4" height="4" fill="#840a0a"/>
<rect x="211.44" y="291.44" width="4" height="4" fill="#840a0a"/>
<rect x="217.90" y="286.70" width="4" height="4" fill="#840a0a"/>
<rect x="224.36" y="283.34" width="4" height="4" fill="#840a0a"/>
<rect x="230.83" y="280.66" width="4" height="4" fill="#840a0a"/>
<rect x="237.29" y="278.41" width="4" height="4" fill="#840a0a"/>
<rect x="243.75" y="276.48" width="4" height="4" fill="#840a0a"/>
<rect x="250.21" y="274.83" width="4" height="4" fill="#840a0a"/>
<rect x="256.68" y="273.40" width="4" height="4" fill="#840a0a"/>
<rect x="263.14" y="272.17" width="4" height="4" fill="#840a0a"/>
<rect x="269.60" y="271.12" width="4" height="4" fill="#840a0a"/>
<rect x="276.06" y="270.21" width="4" height="4" fill="#840a0a"/>
<rect x="282.53" y="269.42" width="4" height="4" fill="#840a0a"/>
<rect x="288.99" y="268.74" width="4" height="4" fill="#840a0a"/>
<rect x="295.45" y="268.15" width="4" height="4" fill="#840a0a"/>
<rect x="301.91" y="267.63" width="4" height="4" fill="#840a0a"/>
<rect x="308.38" y="267.18" width="4" height="4" fill="#840a0a"/>
<rect x="314.84" y="266.78" width="4" height="4" fill="#840a0a"/>
<rect x="321.30" y="266.43" width="4" height="4" fill="#840a0a"/>
<path d="M64.80,375.51 L71.26,375.17 L77.73,374.79 L84.19,374.35 L90.65,373.85 L97.11,373.28 L103.58,372.62 L110.04,371.86 L116.50,370.98 L122.96,369.96 L129.43,368.77 L135.89,367.39 L142.35,365.78 L148.81,363.92 L155.28,361.74 L161.74,359.15 L168.20,355.89 L174.66,351.31 L181.12,343.84 L187.59,331.54 L194.05,315.73 L200.51,302.40 L206.98,294.17 L213.44,289.18 L219.90,285.70 L226.36,282.96 L232.83,280.66 L239.29,278.70 L245.75,277.01 L252.21,275.56 L258.68,274.31 L265.14,273.24 L271.60,272.31 L278.06,271.51 L284.53,270.82 L290.99,270.22 L297.45,269.69 L303.91,269.23 L310.38,268.83 L316.84,268.47 L323.30,268.16" fill="none" stroke="#840a0a" stroke-width="1.7"/>
<rect x="62.80" y="373.51" width="4" height="4" fill="#840a0a"/>
<rect x="69.26" y="373.17" width="4" height="4" fill="#840a0a"/>
<rect x="75.73" y="372.79" width="4" height="4" fill="#840a0a"/>
<rect x="82.19" y="372.35" width="4" height="4" fill="#840a0a"/>
<rect x="88.65" y="371.85" width="4" height="4" fill="#840a0a"/>
<rect x="95.11" y="371.28" width="4" height="4" fill="#840a0a"/>
<rect x="101.58" y="370.62" width="4" height="4" fill="#840a0a"/>
<rect x="108.04" y="369.86" width="4" height="4" fill="#840a0a"/>
<rect x="114.50" y="368.98" width="4" height="4" fill="#840a0a"/>
<rect x="120.96" y="367.96" width="4" height="4" fill="#840a0a"/>
<rect x="127.43" y="366.77" width="4" height="4" fill="#840a0a"/>
<rect x="133.89" y="365.39" width="4" height="4" fill="#840a0a"/>
<rect x="140.35" y="363.78" width="4" height="4" fill="#840a0a"/>
<rect x="146.81" y="361.92" width="4" height="4" fill="#840a0a"/>
<rect x="153.28" y="359.74" width="4" height="4" fill="#840a0a"/>
<rect x="159.74" y="357.15" width="4" height="4" fill="#840a0a"/>
<rect x="166.20" y="353.89" width="4" height="4" fill="#840a0a"/>
<rect x="172.66" y="349.31" width="4" height="4" fill="#840a0a"/>
<rect x="179.12" y="341.84" width="4" height="4" fill="#840a0a"/>
<rect x="185.59" y="329.54" width="4" height="4" fill="#840a0a"/>
<rect x="192.05" y="313.73" width="4" height="4" fill="#840a0a"/>
<rect x="198.51" y="300.40" width="4" height="4" fill="#840a0a"/>
<rect x="204.98" y="292.17" width="4" height="4" fill="#840a0a"/>
<rect x="211.44" y="287.18" width="4" height="4" fill="#840a0a"/>
<rect x="217.90" y="283.70" width="4" height="4" fill="#840a0a"/>
<rect x="224.36" y="280.96" width="4" height="4" fill="#840a0a"/>
<rect x="230.83" y="278.66" width="4" height="4" fill="#840a0a"/>
<rect x="237.29" y="276.70" width="4" height="4" fill="#840a0a"/>
<rect x="243.75" y="275.01" width="4" height="4" fill="#840a0a"/>
<rect x="250.21" y="273.56" width="4" height="4" fill="#840a0a"/>
<rect x="256.68" y="272.31" width="4" height="4" fill="#840a0a"/>
<rect x="263.14" y="271.24" width="4" height="4" fill="#840a0a"/>
<rect x="269.60" y="270.31" width="4" height="4" fill="#840a0a"/>
<rect x="276.06" y="269.51" width="4" height="4" fill="#840a0a"/>
<rect x="282.53" y="268.82" width="4" height="4" fill="#840a0a"/>
<rect x="288.99" y="268.22" width="4" height="4" fill="#840a0a"/>
<rect x="295.45" y="267.69" width="4" height="4" fill="#840a0a"/>
<rect x="301.91" y="267.23" width="4" height="4" fill="#840a0a"/>
<rect x="308.38" y="266.83" width="4" height="4" fill="#840a0a"/>
<rect x="314.84" y="266.47" width="4" height="4" fill="#840a0a"/>
<rect x="321.30" y="266.16" width="4" height="4" fill="#840a0a"/>
</g>
<rect x="64.8" y="228.9" width="258.59999999999997" height="187.79999999999998" fill="none" stroke="#111" stroke-width="1.6"/>
<line x1="64.8" y1="322.85" x2="323.4" y2="322.85" stroke="#111" stroke-width="1.3"/>
<line x1="194.05" y1="228.9" x2="194.05" y2="416.7" stroke="#111" stroke-width="1.3"/>
<line x1="60.8" y1="228.90" x2="64.8" y2="228.90" stroke="#111" stroke-width="1.3"/>
<text x="57.60" y="234.40" font-size="15" text-anchor="end" textLength="32.8" lengthAdjust="spacingAndGlyphs" fill="#1a1a1a" >0.010</text>
<line x1="62.3" y1="252.39" x2="64.8" y2="252.39" stroke="#111" stroke-width="1.3"/>
<line x1="60.8" y1="275.88" x2="64.8" y2="275.88" stroke="#111" stroke-width="1.3"/>
<text x="57.60" y="281.38" font-size="15" text-anchor="end" textLength="32.8" lengthAdjust="spacingAndGlyphs" fill="#1a1a1a" >0.005</text>
<line x1="62.3" y1="299.36" x2="64.8" y2="299.36" stroke="#111" stroke-width="1.3"/>
<line x1="60.8" y1="322.85" x2="64.8" y2="322.85" stroke="#111" stroke-width="1.3"/>
<text x="57.60" y="328.35" font-size="15" text-anchor="end" textLength="32.8" lengthAdjust="spacingAndGlyphs" fill="#1a1a1a" >0.000</text>
<line x1="62.3" y1="346.34" x2="64.8" y2="346.34" stroke="#111" stroke-width="1.3"/>
<line x1="60.8" y1="369.83" x2="64.8" y2="369.83" stroke="#111" stroke-width="1.3"/>
<text x="57.60" y="375.33" font-size="15" text-anchor="end" textLength="37.7" lengthAdjust="spacingAndGlyphs" fill="#1a1a1a" >-0.005</text>
<line x1="62.3" y1="393.31" x2="64.8" y2="393.31" stroke="#111" stroke-width="1.3"/>
<line x1="60.8" y1="416.80" x2="64.8" y2="416.80" stroke="#111" stroke-width="1.3"/>
<text x="57.60" y="422.30" font-size="15" text-anchor="end" textLength="37.7" lengthAdjust="spacingAndGlyphs" fill="#1a1a1a" >-0.010</text>
<line x1="64.80" y1="416.7" x2="64.80" y2="420.5" stroke="#111" stroke-width="1.3"/>
<text x="64.80" y="436.10" font-size="15" text-anchor="middle" textLength="33.2" lengthAdjust="spacingAndGlyphs" fill="#1a1a1a" >-5000</text>
<line x1="97.11" y1="416.7" x2="97.11" y2="418.9" stroke="#111" stroke-width="1.3"/>
<line x1="129.43" y1="416.7" x2="129.43" y2="420.5" stroke="#111" stroke-width="1.3"/>
<text x="129.43" y="436.10" font-size="15" text-anchor="middle" textLength="33.2" lengthAdjust="spacingAndGlyphs" fill="#1a1a1a" >-2500</text>
<line x1="161.74" y1="416.7" x2="161.74" y2="418.9" stroke="#111" stroke-width="1.3"/>
<line x1="194.05" y1="416.7" x2="194.05" y2="420.5" stroke="#111" stroke-width="1.3"/>
<text x="194.05" y="436.10" font-size="15" text-anchor="middle" textLength="7.0" lengthAdjust="spacingAndGlyphs" fill="#1a1a1a" >0</text>
<line x1="226.36" y1="416.7" x2="226.36" y2="418.9" stroke="#111" stroke-width="1.3"/>
<line x1="258.68" y1="416.7" x2="258.68" y2="420.5" stroke="#111" stroke-width="1.3"/>
<text x="258.68" y="436.10" font-size="15" text-anchor="middle" textLength="28.9" lengthAdjust="spacingAndGlyphs" fill="#1a1a1a" >2500</text>
<line x1="290.99" y1="416.7" x2="290.99" y2="418.9" stroke="#111" stroke-width="1.3"/>
<line x1="323.30" y1="416.7" x2="323.30" y2="420.5" stroke="#111" stroke-width="1.3"/>
<text x="323.30" y="436.10" font-size="15" text-anchor="middle" textLength="29.9" lengthAdjust="spacingAndGlyphs" fill="#1a1a1a" >5000</text>
<text x="142.30" y="452.60" font-size="14.3" textLength="103.8" lengthAdjust="spacingAndGlyphs" fill="#1a1a1a" >Applied field (Oe)</text>
<text x="0" y="0" font-size="13" text-anchor="middle" textLength="36" lengthAdjust="spacingAndGlyphs" fill="#1a1a1a" transform="translate(16.00,327.90) rotate(-90)" >emu/g</text>
<line x1="207.9" y1="338.40" x2="233.4" y2="338.40" stroke="#111111" stroke-width="1.5"/>
<rect x="218.40" y="336.60" width="3.6" height="3.6" fill="#111111"/>
<text x="235.40" y="341.90" font-size="10" textLength="62.2" lengthAdjust="spacingAndGlyphs" fill="#1a1a1a" >White cocoon-1</text>
<line x1="207.9" y1="351.90" x2="233.4" y2="351.90" stroke="#f02222" stroke-width="1.5"/>
<rect x="218.40" y="350.10" width="3.6" height="3.6" fill="#f02222"/>
<text x="235.40" y="355.40" font-size="10" textLength="62.2" lengthAdjust="spacingAndGlyphs" fill="#1a1a1a" >White cocoon-2</text>
<line x1="207.9" y1="365.40" x2="233.4" y2="365.40" stroke="#1c1cf0" stroke-width="1.5"/>
<rect x="218.40" y="363.60" width="3.6" height="3.6" fill="#1c1cf0"/>
<text x="235.40" y="368.90" font-size="10" textLength="62.2" lengthAdjust="spacingAndGlyphs" fill="#1a1a1a" >White cocoon-3</text>
<line x1="207.9" y1="378.90" x2="233.4" y2="378.90" stroke="#94921e" stroke-width="1.5"/>
<rect x="218.40" y="377.10" width="3.6" height="3.6" fill="#94921e"/>
<text x="235.40" y="382.40" font-size="10" textLength="62.2" lengthAdjust="spacingAndGlyphs" fill="#1a1a1a" >White cocoon-4</text>
<line x1="207.9" y1="392.40" x2="233.4" y2="392.40" stroke="#1e8a1e" stroke-width="1.5"/>
<rect x="218.40" y="390.60" width="3.6" height="3.6" fill="#1e8a1e"/>
<text x="235.40" y="395.90" font-size="10" textLength="62.2" lengthAdjust="spacingAndGlyphs" fill="#1a1a1a" >White cocoon-5</text>
<line x1="207.9" y1="405.90" x2="233.4" y2="405.90" stroke="#840a0a" stroke-width="1.5"/>
<rect x="218.40" y="404.10" width="3.6" height="3.6" fill="#840a0a"/>
<text x="235.40" y="409.40" font-size="10" textLength="62.2" lengthAdjust="spacingAndGlyphs" fill="#1a1a1a" >White cocoon-6</text>
</svg>
</div></body></html>
